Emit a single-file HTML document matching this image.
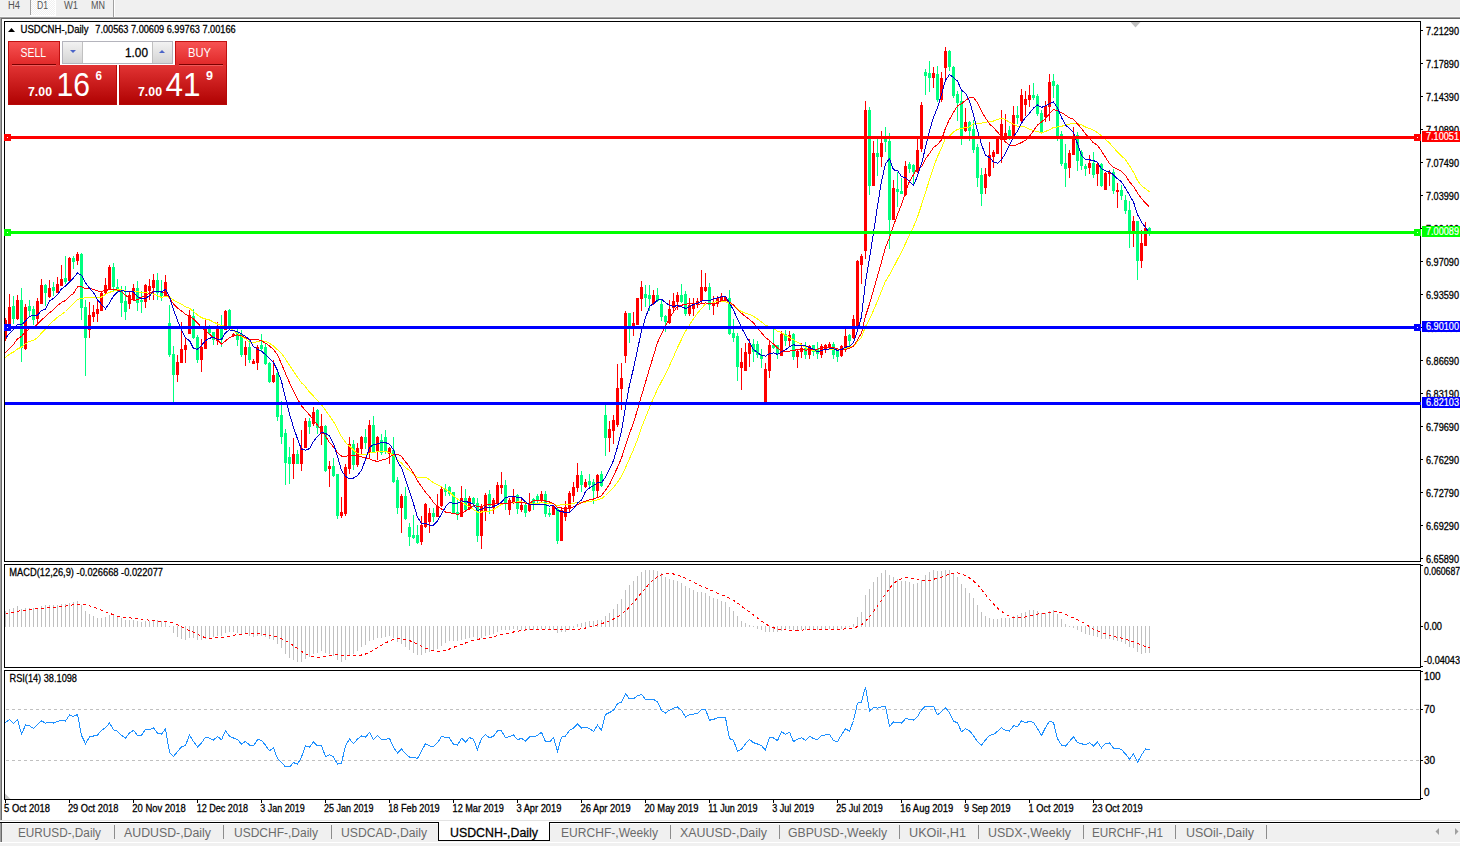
<!DOCTYPE html>
<html><head><meta charset="utf-8"><title>USDCNH-,Daily</title>
<style>
html,body{margin:0;padding:0;background:#fff;}
body{width:1460px;height:846px;overflow:hidden;position:relative;font-family:"Liberation Sans",sans-serif;}
</style></head><body>
<svg width="1460" height="846" viewBox="0 0 1460 846" style="position:absolute;left:0;top:0"><style>text[fill="#000"]{stroke:#000;stroke-width:0.28px} text[fill="#fff"]{stroke:#fff;stroke-width:0.2px}</style><rect x="0" y="0" width="1460" height="17" fill="#f0f0f0"/><rect x="0" y="16" width="1460" height="1" fill="#f7f7f7"/><defs><pattern id="chk" x="0" y="0" width="2" height="2" patternUnits="userSpaceOnUse"><rect width="2" height="2" fill="#f0f0f0"/><rect width="1" height="1" fill="#fff"/><rect x="1" y="1" width="1" height="1" fill="#fff"/></pattern></defs><rect x="31" y="0" width="24" height="15" fill="url(#chk)" shape-rendering="crispEdges"/><rect x="30" y="15" width="26" height="1" fill="#fff"/><rect x="55" y="0" width="1" height="16" fill="#fff"/><rect x="30" y="0" width="1" height="15" fill="#a0a0a0"/><rect x="113" y="0" width="1" height="17" fill="#a0a0a0"/><rect x="114" y="0" width="1" height="17" fill="#ffffff"/><text x="8" y="8.8" font-family="Liberation Sans, sans-serif" font-size="10" fill="#555555" textLength="12" lengthAdjust="spacingAndGlyphs">H4</text><text x="37" y="8.8" font-family="Liberation Sans, sans-serif" font-size="10" fill="#555555" textLength="11" lengthAdjust="spacingAndGlyphs">D1</text><text x="64" y="8.8" font-family="Liberation Sans, sans-serif" font-size="10" fill="#555555" textLength="14" lengthAdjust="spacingAndGlyphs">W1</text><text x="91" y="8.8" font-family="Liberation Sans, sans-serif" font-size="10" fill="#555555" textLength="14" lengthAdjust="spacingAndGlyphs">MN</text><rect x="0" y="17" width="1460" height="1" fill="#a0a0a0"/><rect x="0" y="18" width="1460" height="1" fill="#696969"/><rect x="0" y="17" width="1" height="803" fill="#a0a0a0"/><rect x="1" y="18" width="1" height="802" fill="#696969"/><rect x="4.5" y="21.5" width="1416" height="540" fill="none" stroke="#000" stroke-width="1"/><rect x="4.5" y="564.5" width="1416" height="103" fill="none" stroke="#000" stroke-width="1"/><rect x="4.5" y="670.5" width="1416" height="129" fill="none" stroke="#000" stroke-width="1"/><defs><clipPath id="cm"><rect x="5" y="22" width="1415" height="539"/></clipPath><clipPath id="cd"><rect x="5" y="565" width="1415" height="102"/></clipPath><clipPath id="cr"><rect x="5" y="671" width="1415" height="128"/></clipPath></defs><g clip-path="url(#cm)" shape-rendering="crispEdges"><rect x="5" y="318" width="1" height="23" fill="#ff0000"/><rect x="4" y="320" width="3" height="19" fill="#ff0000"/><rect x="9" y="294" width="1" height="36" fill="#ff0000"/><rect x="8" y="307" width="3" height="18" fill="#ff0000"/><rect x="13" y="296" width="1" height="28" fill="#00ff7f"/><rect x="12" y="306" width="3" height="13" fill="#00ff7f"/><rect x="17" y="295" width="1" height="25" fill="#ff0000"/><rect x="16" y="300" width="3" height="19" fill="#ff0000"/><rect x="21" y="288" width="1" height="74" fill="#00ff7f"/><rect x="20" y="300" width="3" height="48" fill="#00ff7f"/><rect x="25" y="304" width="1" height="46" fill="#ff0000"/><rect x="24" y="307" width="3" height="42" fill="#ff0000"/><rect x="29" y="300" width="1" height="17" fill="#00ff7f"/><rect x="28" y="306" width="3" height="5" fill="#00ff7f"/><rect x="33" y="306" width="1" height="19" fill="#00ff7f"/><rect x="32" y="309" width="3" height="11" fill="#00ff7f"/><rect x="37" y="298" width="1" height="27" fill="#ff0000"/><rect x="36" y="301" width="3" height="18" fill="#ff0000"/><rect x="41" y="279" width="1" height="25" fill="#ff0000"/><rect x="40" y="285" width="3" height="19" fill="#ff0000"/><rect x="45" y="284" width="1" height="22" fill="#00ff7f"/><rect x="44" y="285" width="3" height="8" fill="#00ff7f"/><rect x="49" y="280" width="1" height="18" fill="#ff0000"/><rect x="48" y="288" width="3" height="9" fill="#ff0000"/><rect x="53" y="282" width="1" height="14" fill="#00ff7f"/><rect x="52" y="287" width="3" height="4" fill="#00ff7f"/><rect x="57" y="277" width="1" height="16" fill="#ff0000"/><rect x="56" y="284" width="3" height="9" fill="#ff0000"/><rect x="61" y="265" width="1" height="21" fill="#ff0000"/><rect x="60" y="279" width="3" height="7" fill="#ff0000"/><rect x="65" y="256" width="1" height="28" fill="#00ff7f"/><rect x="64" y="278" width="3" height="4" fill="#00ff7f"/><rect x="69" y="257" width="1" height="25" fill="#ff0000"/><rect x="68" y="258" width="3" height="23" fill="#ff0000"/><rect x="73" y="256" width="1" height="13" fill="#00ff7f"/><rect x="72" y="258" width="3" height="4" fill="#00ff7f"/><rect x="77" y="252" width="1" height="13" fill="#ff0000"/><rect x="76" y="254" width="3" height="7" fill="#ff0000"/><rect x="81" y="253" width="1" height="67" fill="#00ff7f"/><rect x="80" y="254" width="3" height="54" fill="#00ff7f"/><rect x="85" y="300" width="1" height="76" fill="#00ff7f"/><rect x="84" y="307" width="3" height="31" fill="#00ff7f"/><rect x="89" y="302" width="1" height="36" fill="#ff0000"/><rect x="88" y="315" width="3" height="15" fill="#ff0000"/><rect x="93" y="305" width="1" height="17" fill="#ff0000"/><rect x="92" y="312" width="3" height="5" fill="#ff0000"/><rect x="97" y="299" width="1" height="23" fill="#ff0000"/><rect x="96" y="309" width="3" height="5" fill="#ff0000"/><rect x="101" y="292" width="1" height="19" fill="#ff0000"/><rect x="100" y="293" width="3" height="18" fill="#ff0000"/><rect x="105" y="278" width="1" height="16" fill="#ff0000"/><rect x="104" y="285" width="3" height="8" fill="#ff0000"/><rect x="109" y="265" width="1" height="25" fill="#ff0000"/><rect x="108" y="267" width="3" height="22" fill="#ff0000"/><rect x="113" y="263" width="1" height="28" fill="#00ff7f"/><rect x="112" y="267" width="3" height="20" fill="#00ff7f"/><rect x="117" y="279" width="1" height="14" fill="#00ff7f"/><rect x="116" y="287" width="3" height="4" fill="#00ff7f"/><rect x="121" y="286" width="1" height="31" fill="#00ff7f"/><rect x="120" y="290" width="3" height="13" fill="#00ff7f"/><rect x="125" y="286" width="1" height="34" fill="#00ff7f"/><rect x="124" y="301" width="3" height="11" fill="#00ff7f"/><rect x="129" y="291" width="1" height="18" fill="#ff0000"/><rect x="128" y="295" width="3" height="9" fill="#ff0000"/><rect x="133" y="284" width="1" height="17" fill="#ff0000"/><rect x="132" y="288" width="3" height="12" fill="#ff0000"/><rect x="137" y="281" width="1" height="30" fill="#00ff7f"/><rect x="136" y="288" width="3" height="15" fill="#00ff7f"/><rect x="141" y="291" width="1" height="22" fill="#00ff7f"/><rect x="140" y="300" width="3" height="2" fill="#00ff7f"/><rect x="145" y="284" width="1" height="24" fill="#ff0000"/><rect x="144" y="285" width="3" height="17" fill="#ff0000"/><rect x="149" y="279" width="1" height="21" fill="#ff0000"/><rect x="148" y="286" width="3" height="5" fill="#ff0000"/><rect x="153" y="274" width="1" height="26" fill="#ff0000"/><rect x="152" y="280" width="3" height="8" fill="#ff0000"/><rect x="157" y="273" width="1" height="27" fill="#00ff7f"/><rect x="156" y="280" width="3" height="13" fill="#00ff7f"/><rect x="161" y="280" width="1" height="21" fill="#00ff7f"/><rect x="160" y="291" width="3" height="5" fill="#00ff7f"/><rect x="165" y="275" width="1" height="21" fill="#ff0000"/><rect x="164" y="282" width="3" height="14" fill="#ff0000"/><rect x="169" y="305" width="1" height="52" fill="#00ff7f"/><rect x="168" y="323" width="3" height="32" fill="#00ff7f"/><rect x="173" y="346" width="1" height="56" fill="#00ff7f"/><rect x="172" y="354" width="3" height="21" fill="#00ff7f"/><rect x="177" y="355" width="1" height="27" fill="#ff0000"/><rect x="176" y="362" width="3" height="13" fill="#ff0000"/><rect x="181" y="322" width="1" height="41" fill="#ff0000"/><rect x="180" y="349" width="3" height="14" fill="#ff0000"/><rect x="185" y="338" width="1" height="25" fill="#ff0000"/><rect x="184" y="345" width="3" height="5" fill="#ff0000"/><rect x="189" y="310" width="1" height="24" fill="#ff0000"/><rect x="188" y="315" width="3" height="19" fill="#ff0000"/><rect x="193" y="309" width="1" height="30" fill="#00ff7f"/><rect x="192" y="316" width="3" height="22" fill="#00ff7f"/><rect x="197" y="335" width="1" height="28" fill="#00ff7f"/><rect x="196" y="337" width="3" height="23" fill="#00ff7f"/><rect x="201" y="339" width="1" height="33" fill="#ff0000"/><rect x="200" y="347" width="3" height="13" fill="#ff0000"/><rect x="205" y="319" width="1" height="30" fill="#ff0000"/><rect x="204" y="329" width="3" height="20" fill="#ff0000"/><rect x="209" y="325" width="1" height="10" fill="#00ff7f"/><rect x="208" y="329" width="3" height="4" fill="#00ff7f"/><rect x="213" y="332" width="1" height="13" fill="#00ff7f"/><rect x="212" y="332" width="3" height="8" fill="#00ff7f"/><rect x="217" y="322" width="1" height="23" fill="#ff0000"/><rect x="216" y="328" width="3" height="13" fill="#ff0000"/><rect x="221" y="315" width="1" height="32" fill="#00ff7f"/><rect x="220" y="328" width="3" height="12" fill="#00ff7f"/><rect x="225" y="310" width="1" height="20" fill="#ff0000"/><rect x="224" y="311" width="3" height="19" fill="#ff0000"/><rect x="229" y="309" width="1" height="20" fill="#00ff7f"/><rect x="228" y="310" width="3" height="19" fill="#00ff7f"/><rect x="233" y="333" width="1" height="4" fill="#ff0000"/><rect x="232" y="334" width="3" height="2" fill="#ff0000"/><rect x="237" y="329" width="1" height="17" fill="#00ff7f"/><rect x="236" y="333" width="3" height="7" fill="#00ff7f"/><rect x="241" y="330" width="1" height="27" fill="#00ff7f"/><rect x="240" y="334" width="3" height="21" fill="#00ff7f"/><rect x="245" y="341" width="1" height="25" fill="#ff0000"/><rect x="244" y="347" width="3" height="8" fill="#ff0000"/><rect x="249" y="340" width="1" height="23" fill="#00ff7f"/><rect x="248" y="347" width="3" height="13" fill="#00ff7f"/><rect x="253" y="359" width="1" height="5" fill="#ff0000"/><rect x="252" y="361" width="3" height="3" fill="#ff0000"/><rect x="257" y="345" width="1" height="25" fill="#ff0000"/><rect x="256" y="347" width="3" height="16" fill="#ff0000"/><rect x="261" y="334" width="1" height="17" fill="#00ff7f"/><rect x="260" y="345" width="3" height="4" fill="#00ff7f"/><rect x="265" y="343" width="1" height="22" fill="#00ff7f"/><rect x="264" y="347" width="3" height="17" fill="#00ff7f"/><rect x="269" y="362" width="1" height="21" fill="#00ff7f"/><rect x="268" y="363" width="3" height="19" fill="#00ff7f"/><rect x="273" y="360" width="1" height="23" fill="#ff0000"/><rect x="272" y="375" width="3" height="7" fill="#ff0000"/><rect x="277" y="372" width="1" height="49" fill="#00ff7f"/><rect x="276" y="373" width="3" height="44" fill="#00ff7f"/><rect x="281" y="401" width="1" height="43" fill="#00ff7f"/><rect x="280" y="415" width="3" height="22" fill="#00ff7f"/><rect x="285" y="429" width="1" height="56" fill="#00ff7f"/><rect x="284" y="433" width="3" height="30" fill="#00ff7f"/><rect x="289" y="447" width="1" height="37" fill="#00ff7f"/><rect x="288" y="457" width="3" height="7" fill="#00ff7f"/><rect x="293" y="438" width="1" height="41" fill="#ff0000"/><rect x="292" y="454" width="3" height="10" fill="#ff0000"/><rect x="297" y="450" width="1" height="14" fill="#00ff7f"/><rect x="296" y="454" width="3" height="10" fill="#00ff7f"/><rect x="301" y="430" width="1" height="41" fill="#ff0000"/><rect x="300" y="448" width="3" height="16" fill="#ff0000"/><rect x="305" y="418" width="1" height="30" fill="#ff0000"/><rect x="304" y="421" width="3" height="27" fill="#ff0000"/><rect x="309" y="418" width="1" height="16" fill="#00ff7f"/><rect x="308" y="421" width="3" height="6" fill="#00ff7f"/><rect x="313" y="407" width="1" height="19" fill="#ff0000"/><rect x="312" y="412" width="3" height="12" fill="#ff0000"/><rect x="317" y="409" width="1" height="25" fill="#00ff7f"/><rect x="316" y="410" width="3" height="18" fill="#00ff7f"/><rect x="321" y="414" width="1" height="31" fill="#ff0000"/><rect x="320" y="426" width="3" height="8" fill="#ff0000"/><rect x="325" y="425" width="1" height="47" fill="#00ff7f"/><rect x="324" y="426" width="3" height="45" fill="#00ff7f"/><rect x="329" y="461" width="1" height="26" fill="#ff0000"/><rect x="328" y="466" width="3" height="3" fill="#ff0000"/><rect x="333" y="458" width="1" height="19" fill="#00ff7f"/><rect x="332" y="466" width="3" height="10" fill="#00ff7f"/><rect x="337" y="474" width="1" height="45" fill="#00ff7f"/><rect x="336" y="474" width="3" height="42" fill="#00ff7f"/><rect x="341" y="497" width="1" height="21" fill="#ff0000"/><rect x="340" y="512" width="3" height="4" fill="#ff0000"/><rect x="345" y="464" width="1" height="52" fill="#ff0000"/><rect x="344" y="467" width="3" height="47" fill="#ff0000"/><rect x="349" y="437" width="1" height="37" fill="#ff0000"/><rect x="348" y="444" width="3" height="25" fill="#ff0000"/><rect x="353" y="440" width="1" height="30" fill="#00ff7f"/><rect x="352" y="444" width="3" height="21" fill="#00ff7f"/><rect x="357" y="443" width="1" height="24" fill="#ff0000"/><rect x="356" y="448" width="3" height="17" fill="#ff0000"/><rect x="361" y="436" width="1" height="18" fill="#ff0000"/><rect x="360" y="437" width="3" height="12" fill="#ff0000"/><rect x="365" y="429" width="1" height="20" fill="#00ff7f"/><rect x="364" y="437" width="3" height="6" fill="#00ff7f"/><rect x="369" y="420" width="1" height="39" fill="#ff0000"/><rect x="368" y="425" width="3" height="28" fill="#ff0000"/><rect x="373" y="416" width="1" height="37" fill="#00ff7f"/><rect x="372" y="425" width="3" height="27" fill="#00ff7f"/><rect x="377" y="436" width="1" height="24" fill="#ff0000"/><rect x="376" y="437" width="3" height="15" fill="#ff0000"/><rect x="381" y="434" width="1" height="21" fill="#00ff7f"/><rect x="380" y="440" width="3" height="13" fill="#00ff7f"/><rect x="385" y="430" width="1" height="24" fill="#00ff7f"/><rect x="384" y="437" width="3" height="15" fill="#00ff7f"/><rect x="389" y="447" width="1" height="17" fill="#ff0000"/><rect x="388" y="448" width="3" height="6" fill="#ff0000"/><rect x="393" y="437" width="1" height="46" fill="#00ff7f"/><rect x="392" y="450" width="3" height="32" fill="#00ff7f"/><rect x="397" y="477" width="1" height="37" fill="#00ff7f"/><rect x="396" y="480" width="3" height="28" fill="#00ff7f"/><rect x="401" y="494" width="1" height="39" fill="#ff0000"/><rect x="400" y="496" width="3" height="12" fill="#ff0000"/><rect x="405" y="487" width="1" height="33" fill="#00ff7f"/><rect x="404" y="496" width="3" height="23" fill="#00ff7f"/><rect x="409" y="523" width="1" height="23" fill="#00ff7f"/><rect x="408" y="527" width="3" height="10" fill="#00ff7f"/><rect x="413" y="515" width="1" height="24" fill="#00ff7f"/><rect x="412" y="535" width="3" height="3" fill="#00ff7f"/><rect x="417" y="525" width="1" height="19" fill="#00ff7f"/><rect x="416" y="535" width="3" height="8" fill="#00ff7f"/><rect x="421" y="516" width="1" height="29" fill="#ff0000"/><rect x="420" y="525" width="3" height="17" fill="#ff0000"/><rect x="425" y="503" width="1" height="25" fill="#ff0000"/><rect x="424" y="504" width="3" height="23" fill="#ff0000"/><rect x="429" y="508" width="1" height="25" fill="#ff0000"/><rect x="428" y="513" width="3" height="9" fill="#ff0000"/><rect x="433" y="508" width="1" height="14" fill="#00ff7f"/><rect x="432" y="513" width="3" height="4" fill="#00ff7f"/><rect x="437" y="494" width="1" height="23" fill="#ff0000"/><rect x="436" y="506" width="3" height="11" fill="#ff0000"/><rect x="441" y="487" width="1" height="20" fill="#ff0000"/><rect x="440" y="489" width="3" height="17" fill="#ff0000"/><rect x="445" y="484" width="1" height="12" fill="#00ff7f"/><rect x="444" y="489" width="3" height="3" fill="#00ff7f"/><rect x="449" y="486" width="1" height="10" fill="#00ff7f"/><rect x="448" y="487" width="3" height="7" fill="#00ff7f"/><rect x="453" y="492" width="1" height="22" fill="#00ff7f"/><rect x="452" y="492" width="3" height="21" fill="#00ff7f"/><rect x="457" y="498" width="1" height="22" fill="#00ff7f"/><rect x="456" y="512" width="3" height="3" fill="#00ff7f"/><rect x="461" y="486" width="1" height="31" fill="#ff0000"/><rect x="460" y="498" width="3" height="19" fill="#ff0000"/><rect x="465" y="489" width="1" height="22" fill="#00ff7f"/><rect x="464" y="498" width="3" height="12" fill="#00ff7f"/><rect x="469" y="496" width="1" height="14" fill="#ff0000"/><rect x="468" y="498" width="3" height="11" fill="#ff0000"/><rect x="473" y="497" width="1" height="10" fill="#00ff7f"/><rect x="472" y="498" width="3" height="6" fill="#00ff7f"/><rect x="477" y="498" width="1" height="44" fill="#00ff7f"/><rect x="476" y="503" width="3" height="33" fill="#00ff7f"/><rect x="481" y="504" width="1" height="45" fill="#ff0000"/><rect x="480" y="506" width="3" height="30" fill="#ff0000"/><rect x="485" y="493" width="1" height="28" fill="#ff0000"/><rect x="484" y="495" width="3" height="16" fill="#ff0000"/><rect x="489" y="490" width="1" height="24" fill="#00ff7f"/><rect x="488" y="494" width="3" height="12" fill="#00ff7f"/><rect x="493" y="498" width="1" height="16" fill="#ff0000"/><rect x="492" y="500" width="3" height="8" fill="#ff0000"/><rect x="497" y="482" width="1" height="23" fill="#ff0000"/><rect x="496" y="485" width="3" height="18" fill="#ff0000"/><rect x="501" y="472" width="1" height="22" fill="#ff0000"/><rect x="500" y="485" width="3" height="3" fill="#ff0000"/><rect x="505" y="480" width="1" height="30" fill="#00ff7f"/><rect x="504" y="485" width="3" height="19" fill="#00ff7f"/><rect x="509" y="498" width="1" height="17" fill="#ff0000"/><rect x="508" y="500" width="3" height="10" fill="#ff0000"/><rect x="513" y="489" width="1" height="15" fill="#ff0000"/><rect x="512" y="496" width="3" height="6" fill="#ff0000"/><rect x="517" y="494" width="1" height="20" fill="#00ff7f"/><rect x="516" y="495" width="3" height="14" fill="#00ff7f"/><rect x="521" y="498" width="1" height="14" fill="#ff0000"/><rect x="520" y="505" width="3" height="5" fill="#ff0000"/><rect x="525" y="503" width="1" height="14" fill="#00ff7f"/><rect x="524" y="505" width="3" height="8" fill="#00ff7f"/><rect x="529" y="493" width="1" height="19" fill="#ff0000"/><rect x="528" y="503" width="3" height="8" fill="#ff0000"/><rect x="533" y="498" width="1" height="12" fill="#00ff7f"/><rect x="532" y="499" width="3" height="5" fill="#00ff7f"/><rect x="537" y="494" width="1" height="10" fill="#00ff7f"/><rect x="536" y="496" width="3" height="5" fill="#00ff7f"/><rect x="541" y="491" width="1" height="12" fill="#ff0000"/><rect x="540" y="494" width="3" height="7" fill="#ff0000"/><rect x="545" y="491" width="1" height="26" fill="#00ff7f"/><rect x="544" y="494" width="3" height="20" fill="#00ff7f"/><rect x="549" y="508" width="1" height="9" fill="#00ff7f"/><rect x="548" y="513" width="3" height="2" fill="#00ff7f"/><rect x="553" y="506" width="1" height="9" fill="#ff0000"/><rect x="552" y="506" width="3" height="9" fill="#ff0000"/><rect x="557" y="507" width="1" height="37" fill="#00ff7f"/><rect x="556" y="509" width="3" height="32" fill="#00ff7f"/><rect x="561" y="507" width="1" height="34" fill="#ff0000"/><rect x="560" y="510" width="3" height="31" fill="#ff0000"/><rect x="565" y="501" width="1" height="20" fill="#ff0000"/><rect x="564" y="507" width="3" height="10" fill="#ff0000"/><rect x="569" y="491" width="1" height="22" fill="#ff0000"/><rect x="568" y="493" width="3" height="16" fill="#ff0000"/><rect x="573" y="482" width="1" height="20" fill="#ff0000"/><rect x="572" y="487" width="3" height="9" fill="#ff0000"/><rect x="577" y="463" width="1" height="29" fill="#ff0000"/><rect x="576" y="475" width="3" height="13" fill="#ff0000"/><rect x="581" y="471" width="1" height="21" fill="#00ff7f"/><rect x="580" y="475" width="3" height="10" fill="#00ff7f"/><rect x="585" y="479" width="1" height="9" fill="#ff0000"/><rect x="584" y="482" width="3" height="5" fill="#ff0000"/><rect x="589" y="474" width="1" height="13" fill="#00ff7f"/><rect x="588" y="481" width="3" height="4" fill="#00ff7f"/><rect x="593" y="479" width="1" height="25" fill="#00ff7f"/><rect x="592" y="482" width="3" height="9" fill="#00ff7f"/><rect x="597" y="474" width="1" height="23" fill="#ff0000"/><rect x="596" y="475" width="3" height="16" fill="#ff0000"/><rect x="601" y="471" width="1" height="16" fill="#00ff7f"/><rect x="600" y="474" width="3" height="12" fill="#00ff7f"/><rect x="605" y="404" width="1" height="52" fill="#00ff7f"/><rect x="604" y="415" width="3" height="23" fill="#00ff7f"/><rect x="609" y="421" width="1" height="31" fill="#ff0000"/><rect x="608" y="429" width="3" height="9" fill="#ff0000"/><rect x="613" y="415" width="1" height="29" fill="#ff0000"/><rect x="612" y="420" width="3" height="11" fill="#ff0000"/><rect x="617" y="364" width="1" height="63" fill="#ff0000"/><rect x="616" y="388" width="3" height="37" fill="#ff0000"/><rect x="621" y="363" width="1" height="47" fill="#ff0000"/><rect x="620" y="378" width="3" height="11" fill="#ff0000"/><rect x="625" y="311" width="1" height="52" fill="#ff0000"/><rect x="624" y="313" width="3" height="43" fill="#ff0000"/><rect x="629" y="313" width="1" height="30" fill="#00ff7f"/><rect x="628" y="313" width="3" height="13" fill="#00ff7f"/><rect x="633" y="312" width="1" height="24" fill="#ff0000"/><rect x="632" y="323" width="3" height="3" fill="#ff0000"/><rect x="637" y="298" width="1" height="27" fill="#ff0000"/><rect x="636" y="298" width="3" height="27" fill="#ff0000"/><rect x="641" y="281" width="1" height="30" fill="#ff0000"/><rect x="640" y="287" width="3" height="12" fill="#ff0000"/><rect x="645" y="285" width="1" height="22" fill="#00ff7f"/><rect x="644" y="294" width="3" height="4" fill="#00ff7f"/><rect x="649" y="285" width="1" height="26" fill="#00ff7f"/><rect x="648" y="295" width="3" height="4" fill="#00ff7f"/><rect x="653" y="290" width="1" height="15" fill="#ff0000"/><rect x="652" y="295" width="3" height="9" fill="#ff0000"/><rect x="657" y="288" width="1" height="14" fill="#00ff7f"/><rect x="656" y="295" width="3" height="6" fill="#00ff7f"/><rect x="661" y="299" width="1" height="22" fill="#00ff7f"/><rect x="660" y="304" width="3" height="13" fill="#00ff7f"/><rect x="665" y="315" width="1" height="17" fill="#00ff7f"/><rect x="664" y="316" width="3" height="6" fill="#00ff7f"/><rect x="669" y="300" width="1" height="24" fill="#ff0000"/><rect x="668" y="309" width="3" height="14" fill="#ff0000"/><rect x="673" y="293" width="1" height="18" fill="#ff0000"/><rect x="672" y="301" width="3" height="7" fill="#ff0000"/><rect x="677" y="292" width="1" height="18" fill="#ff0000"/><rect x="676" y="295" width="3" height="7" fill="#ff0000"/><rect x="681" y="284" width="1" height="19" fill="#00ff7f"/><rect x="680" y="295" width="3" height="7" fill="#00ff7f"/><rect x="685" y="291" width="1" height="25" fill="#00ff7f"/><rect x="684" y="294" width="3" height="20" fill="#00ff7f"/><rect x="689" y="298" width="1" height="18" fill="#ff0000"/><rect x="688" y="305" width="3" height="9" fill="#ff0000"/><rect x="693" y="298" width="1" height="18" fill="#ff0000"/><rect x="692" y="303" width="3" height="6" fill="#ff0000"/><rect x="697" y="298" width="1" height="10" fill="#ff0000"/><rect x="696" y="301" width="3" height="4" fill="#ff0000"/><rect x="701" y="270" width="1" height="34" fill="#ff0000"/><rect x="700" y="287" width="3" height="14" fill="#ff0000"/><rect x="705" y="273" width="1" height="19" fill="#ff0000"/><rect x="704" y="287" width="3" height="4" fill="#ff0000"/><rect x="709" y="283" width="1" height="27" fill="#00ff7f"/><rect x="708" y="287" width="3" height="18" fill="#00ff7f"/><rect x="713" y="296" width="1" height="19" fill="#ff0000"/><rect x="712" y="302" width="3" height="4" fill="#ff0000"/><rect x="717" y="296" width="1" height="11" fill="#ff0000"/><rect x="716" y="298" width="3" height="6" fill="#ff0000"/><rect x="721" y="293" width="1" height="9" fill="#ff0000"/><rect x="720" y="296" width="3" height="5" fill="#ff0000"/><rect x="725" y="296" width="1" height="6" fill="#ff0000"/><rect x="724" y="297" width="3" height="4" fill="#ff0000"/><rect x="729" y="290" width="1" height="45" fill="#00ff7f"/><rect x="728" y="298" width="3" height="36" fill="#00ff7f"/><rect x="733" y="319" width="1" height="23" fill="#00ff7f"/><rect x="732" y="333" width="3" height="5" fill="#00ff7f"/><rect x="737" y="333" width="1" height="48" fill="#00ff7f"/><rect x="736" y="336" width="3" height="31" fill="#00ff7f"/><rect x="741" y="348" width="1" height="42" fill="#ff0000"/><rect x="740" y="362" width="3" height="6" fill="#ff0000"/><rect x="745" y="343" width="1" height="28" fill="#ff0000"/><rect x="744" y="352" width="3" height="19" fill="#ff0000"/><rect x="749" y="339" width="1" height="28" fill="#ff0000"/><rect x="748" y="343" width="3" height="11" fill="#ff0000"/><rect x="753" y="339" width="1" height="23" fill="#00ff7f"/><rect x="752" y="344" width="3" height="8" fill="#00ff7f"/><rect x="757" y="341" width="1" height="17" fill="#00ff7f"/><rect x="756" y="344" width="3" height="11" fill="#00ff7f"/><rect x="761" y="349" width="1" height="19" fill="#00ff7f"/><rect x="760" y="355" width="3" height="4" fill="#00ff7f"/><rect x="765" y="363" width="1" height="40" fill="#ff0000"/><rect x="764" y="369" width="3" height="34" fill="#ff0000"/><rect x="769" y="341" width="1" height="37" fill="#ff0000"/><rect x="768" y="345" width="3" height="26" fill="#ff0000"/><rect x="773" y="329" width="1" height="20" fill="#00ff7f"/><rect x="772" y="345" width="3" height="3" fill="#00ff7f"/><rect x="777" y="345" width="1" height="14" fill="#00ff7f"/><rect x="776" y="345" width="3" height="9" fill="#00ff7f"/><rect x="781" y="331" width="1" height="25" fill="#ff0000"/><rect x="780" y="334" width="3" height="22" fill="#ff0000"/><rect x="785" y="330" width="1" height="16" fill="#00ff7f"/><rect x="784" y="334" width="3" height="7" fill="#00ff7f"/><rect x="789" y="331" width="1" height="15" fill="#ff0000"/><rect x="788" y="335" width="3" height="6" fill="#ff0000"/><rect x="793" y="333" width="1" height="27" fill="#00ff7f"/><rect x="792" y="334" width="3" height="23" fill="#00ff7f"/><rect x="797" y="350" width="1" height="18" fill="#ff0000"/><rect x="796" y="351" width="3" height="6" fill="#ff0000"/><rect x="801" y="343" width="1" height="15" fill="#ff0000"/><rect x="800" y="348" width="3" height="4" fill="#ff0000"/><rect x="805" y="342" width="1" height="17" fill="#00ff7f"/><rect x="804" y="348" width="3" height="7" fill="#00ff7f"/><rect x="809" y="345" width="1" height="14" fill="#ff0000"/><rect x="808" y="346" width="3" height="9" fill="#ff0000"/><rect x="813" y="345" width="1" height="11" fill="#00ff7f"/><rect x="812" y="345" width="3" height="7" fill="#00ff7f"/><rect x="817" y="342" width="1" height="17" fill="#00ff7f"/><rect x="816" y="349" width="3" height="5" fill="#00ff7f"/><rect x="821" y="344" width="1" height="14" fill="#ff0000"/><rect x="820" y="346" width="3" height="9" fill="#ff0000"/><rect x="825" y="344" width="1" height="9" fill="#ff0000"/><rect x="824" y="345" width="3" height="4" fill="#ff0000"/><rect x="829" y="342" width="1" height="8" fill="#ff0000"/><rect x="828" y="344" width="3" height="4" fill="#ff0000"/><rect x="833" y="342" width="1" height="17" fill="#00ff7f"/><rect x="832" y="344" width="3" height="11" fill="#00ff7f"/><rect x="837" y="350" width="1" height="12" fill="#00ff7f"/><rect x="836" y="351" width="3" height="6" fill="#00ff7f"/><rect x="841" y="345" width="1" height="12" fill="#ff0000"/><rect x="840" y="346" width="3" height="10" fill="#ff0000"/><rect x="845" y="329" width="1" height="23" fill="#ff0000"/><rect x="844" y="336" width="3" height="12" fill="#ff0000"/><rect x="849" y="334" width="1" height="12" fill="#00ff7f"/><rect x="848" y="335" width="3" height="6" fill="#00ff7f"/><rect x="853" y="315" width="1" height="24" fill="#ff0000"/><rect x="852" y="319" width="3" height="19" fill="#ff0000"/><rect x="857" y="260" width="1" height="69" fill="#ff0000"/><rect x="856" y="261" width="3" height="66" fill="#ff0000"/><rect x="861" y="254" width="1" height="30" fill="#ff0000"/><rect x="860" y="256" width="3" height="9" fill="#ff0000"/><rect x="865" y="101" width="1" height="158" fill="#ff0000"/><rect x="864" y="110" width="3" height="141" fill="#ff0000"/><rect x="869" y="107" width="1" height="88" fill="#00ff7f"/><rect x="868" y="110" width="3" height="76" fill="#00ff7f"/><rect x="873" y="141" width="1" height="45" fill="#ff0000"/><rect x="872" y="153" width="3" height="33" fill="#ff0000"/><rect x="877" y="139" width="1" height="37" fill="#00ff7f"/><rect x="876" y="153" width="3" height="4" fill="#00ff7f"/><rect x="881" y="131" width="1" height="36" fill="#ff0000"/><rect x="880" y="143" width="3" height="14" fill="#ff0000"/><rect x="885" y="127" width="1" height="25" fill="#00ff7f"/><rect x="884" y="139" width="3" height="3" fill="#00ff7f"/><rect x="889" y="133" width="1" height="116" fill="#00ff7f"/><rect x="888" y="141" width="3" height="79" fill="#00ff7f"/><rect x="893" y="180" width="1" height="40" fill="#ff0000"/><rect x="892" y="188" width="3" height="32" fill="#ff0000"/><rect x="897" y="172" width="1" height="35" fill="#00ff7f"/><rect x="896" y="189" width="3" height="3" fill="#00ff7f"/><rect x="901" y="178" width="1" height="16" fill="#00ff7f"/><rect x="900" y="191" width="3" height="3" fill="#00ff7f"/><rect x="905" y="161" width="1" height="35" fill="#ff0000"/><rect x="904" y="166" width="3" height="29" fill="#ff0000"/><rect x="909" y="162" width="1" height="11" fill="#00ff7f"/><rect x="908" y="164" width="3" height="5" fill="#00ff7f"/><rect x="913" y="164" width="1" height="22" fill="#00ff7f"/><rect x="912" y="165" width="3" height="7" fill="#00ff7f"/><rect x="917" y="138" width="1" height="35" fill="#ff0000"/><rect x="916" y="150" width="3" height="22" fill="#ff0000"/><rect x="921" y="102" width="1" height="50" fill="#ff0000"/><rect x="920" y="105" width="3" height="44" fill="#ff0000"/><rect x="925" y="69" width="1" height="26" fill="#00ff7f"/><rect x="924" y="72" width="3" height="4" fill="#00ff7f"/><rect x="929" y="61" width="1" height="31" fill="#00ff7f"/><rect x="928" y="73" width="3" height="5" fill="#00ff7f"/><rect x="933" y="67" width="1" height="21" fill="#ff0000"/><rect x="932" y="73" width="3" height="5" fill="#ff0000"/><rect x="937" y="66" width="1" height="36" fill="#00ff7f"/><rect x="936" y="74" width="3" height="26" fill="#00ff7f"/><rect x="941" y="72" width="1" height="30" fill="#ff0000"/><rect x="940" y="78" width="3" height="22" fill="#ff0000"/><rect x="945" y="47" width="1" height="32" fill="#ff0000"/><rect x="944" y="51" width="3" height="17" fill="#ff0000"/><rect x="949" y="50" width="1" height="21" fill="#00ff7f"/><rect x="948" y="51" width="3" height="16" fill="#00ff7f"/><rect x="953" y="66" width="1" height="32" fill="#00ff7f"/><rect x="952" y="67" width="3" height="29" fill="#00ff7f"/><rect x="957" y="91" width="1" height="30" fill="#00ff7f"/><rect x="956" y="94" width="3" height="9" fill="#00ff7f"/><rect x="961" y="91" width="1" height="54" fill="#00ff7f"/><rect x="960" y="101" width="3" height="36" fill="#00ff7f"/><rect x="965" y="108" width="1" height="24" fill="#ff0000"/><rect x="964" y="122" width="3" height="9" fill="#ff0000"/><rect x="969" y="121" width="1" height="20" fill="#00ff7f"/><rect x="968" y="122" width="3" height="9" fill="#00ff7f"/><rect x="973" y="120" width="1" height="33" fill="#00ff7f"/><rect x="972" y="129" width="3" height="21" fill="#00ff7f"/><rect x="977" y="144" width="1" height="43" fill="#00ff7f"/><rect x="976" y="147" width="3" height="31" fill="#00ff7f"/><rect x="981" y="168" width="1" height="38" fill="#00ff7f"/><rect x="980" y="175" width="3" height="19" fill="#00ff7f"/><rect x="985" y="168" width="1" height="26" fill="#ff0000"/><rect x="984" y="174" width="3" height="14" fill="#ff0000"/><rect x="989" y="142" width="1" height="35" fill="#ff0000"/><rect x="988" y="155" width="3" height="21" fill="#ff0000"/><rect x="993" y="150" width="1" height="18" fill="#ff0000"/><rect x="992" y="152" width="3" height="5" fill="#ff0000"/><rect x="997" y="137" width="1" height="17" fill="#ff0000"/><rect x="996" y="139" width="3" height="15" fill="#ff0000"/><rect x="1001" y="110" width="1" height="53" fill="#ff0000"/><rect x="1000" y="124" width="3" height="16" fill="#ff0000"/><rect x="1005" y="114" width="1" height="26" fill="#ff0000"/><rect x="1004" y="133" width="3" height="7" fill="#ff0000"/><rect x="1009" y="126" width="1" height="14" fill="#00ff7f"/><rect x="1008" y="130" width="3" height="6" fill="#00ff7f"/><rect x="1013" y="106" width="1" height="32" fill="#ff0000"/><rect x="1012" y="115" width="3" height="22" fill="#ff0000"/><rect x="1017" y="106" width="1" height="18" fill="#00ff7f"/><rect x="1016" y="115" width="3" height="3" fill="#00ff7f"/><rect x="1021" y="89" width="1" height="35" fill="#ff0000"/><rect x="1020" y="95" width="3" height="26" fill="#ff0000"/><rect x="1025" y="91" width="1" height="25" fill="#ff0000"/><rect x="1024" y="99" width="3" height="6" fill="#ff0000"/><rect x="1029" y="85" width="1" height="22" fill="#ff0000"/><rect x="1028" y="95" width="3" height="5" fill="#ff0000"/><rect x="1033" y="83" width="1" height="17" fill="#00ff7f"/><rect x="1032" y="95" width="3" height="3" fill="#00ff7f"/><rect x="1037" y="94" width="1" height="22" fill="#00ff7f"/><rect x="1036" y="96" width="3" height="18" fill="#00ff7f"/><rect x="1041" y="110" width="1" height="23" fill="#00ff7f"/><rect x="1040" y="113" width="3" height="20" fill="#00ff7f"/><rect x="1045" y="101" width="1" height="21" fill="#ff0000"/><rect x="1044" y="106" width="3" height="11" fill="#ff0000"/><rect x="1049" y="74" width="1" height="47" fill="#ff0000"/><rect x="1048" y="82" width="3" height="25" fill="#ff0000"/><rect x="1053" y="74" width="1" height="24" fill="#00ff7f"/><rect x="1052" y="81" width="3" height="5" fill="#00ff7f"/><rect x="1057" y="84" width="1" height="57" fill="#00ff7f"/><rect x="1056" y="85" width="3" height="53" fill="#00ff7f"/><rect x="1061" y="131" width="1" height="35" fill="#00ff7f"/><rect x="1060" y="134" width="3" height="30" fill="#00ff7f"/><rect x="1065" y="144" width="1" height="43" fill="#00ff7f"/><rect x="1064" y="163" width="3" height="6" fill="#00ff7f"/><rect x="1069" y="150" width="1" height="28" fill="#ff0000"/><rect x="1068" y="153" width="3" height="15" fill="#ff0000"/><rect x="1073" y="127" width="1" height="28" fill="#ff0000"/><rect x="1072" y="138" width="3" height="17" fill="#ff0000"/><rect x="1077" y="132" width="1" height="39" fill="#00ff7f"/><rect x="1076" y="135" width="3" height="26" fill="#00ff7f"/><rect x="1081" y="150" width="1" height="20" fill="#00ff7f"/><rect x="1080" y="152" width="3" height="14" fill="#00ff7f"/><rect x="1085" y="164" width="1" height="12" fill="#00ff7f"/><rect x="1084" y="166" width="3" height="3" fill="#00ff7f"/><rect x="1089" y="155" width="1" height="19" fill="#ff0000"/><rect x="1088" y="163" width="3" height="5" fill="#ff0000"/><rect x="1093" y="152" width="1" height="26" fill="#00ff7f"/><rect x="1092" y="163" width="3" height="12" fill="#00ff7f"/><rect x="1097" y="163" width="1" height="23" fill="#ff0000"/><rect x="1096" y="164" width="3" height="10" fill="#ff0000"/><rect x="1101" y="163" width="1" height="24" fill="#00ff7f"/><rect x="1100" y="164" width="3" height="22" fill="#00ff7f"/><rect x="1105" y="172" width="1" height="18" fill="#ff0000"/><rect x="1104" y="173" width="3" height="17" fill="#ff0000"/><rect x="1109" y="170" width="1" height="16" fill="#ff0000"/><rect x="1108" y="172" width="3" height="2" fill="#ff0000"/><rect x="1113" y="169" width="1" height="25" fill="#00ff7f"/><rect x="1112" y="172" width="3" height="19" fill="#00ff7f"/><rect x="1117" y="183" width="1" height="25" fill="#ff0000"/><rect x="1116" y="190" width="3" height="2" fill="#ff0000"/><rect x="1121" y="185" width="1" height="15" fill="#00ff7f"/><rect x="1120" y="190" width="3" height="6" fill="#00ff7f"/><rect x="1125" y="195" width="1" height="19" fill="#00ff7f"/><rect x="1124" y="200" width="3" height="11" fill="#00ff7f"/><rect x="1129" y="201" width="1" height="47" fill="#00ff7f"/><rect x="1128" y="210" width="3" height="23" fill="#00ff7f"/><rect x="1133" y="216" width="1" height="31" fill="#ff0000"/><rect x="1132" y="221" width="3" height="10" fill="#ff0000"/><rect x="1137" y="221" width="1" height="59" fill="#00ff7f"/><rect x="1136" y="221" width="3" height="40" fill="#00ff7f"/><rect x="1141" y="230" width="1" height="38" fill="#ff0000"/><rect x="1140" y="243" width="3" height="18" fill="#ff0000"/><rect x="1145" y="222" width="1" height="24" fill="#ff0000"/><rect x="1144" y="228" width="3" height="18" fill="#ff0000"/><rect x="1149" y="227" width="1" height="9" fill="#00ff7f"/><rect x="1148" y="228" width="3" height="4" fill="#00ff7f"/></g><g clip-path="url(#cm)"><polyline points="5.5,357.5 9.5,354.1 13.5,352.0 17.5,348.9 21.5,347.1 25.5,343.7 29.5,341.3 33.5,340.4 37.5,337.5 41.5,333.1 45.5,329.0 49.5,324.5 53.5,320.8 57.5,317.2 61.5,314.5 65.5,311.5 69.5,307.4 73.5,303.8 77.5,299.4 81.5,298.3 85.5,297.9 89.5,297.6 93.5,297.9 97.5,297.5 101.5,297.1 105.5,294.2 109.5,292.3 113.5,291.1 117.5,289.7 121.5,289.8 125.5,291.0 129.5,291.2 133.5,291.2 137.5,291.7 141.5,292.5 145.5,292.8 149.5,293.1 153.5,294.1 157.5,295.6 161.5,297.5 165.5,296.4 169.5,297.2 173.5,300.0 177.5,302.4 181.5,304.3 185.5,306.7 189.5,308.2 193.5,311.5 197.5,315.0 201.5,317.7 205.5,319.0 209.5,320.0 213.5,322.1 217.5,324.0 221.5,325.7 225.5,326.2 229.5,328.3 233.5,330.5 237.5,333.4 241.5,336.3 245.5,338.8 249.5,342.5 253.5,342.8 257.5,341.5 261.5,340.8 265.5,341.5 269.5,343.2 273.5,346.1 277.5,349.8 281.5,353.5 285.5,359.0 289.5,365.4 293.5,371.2 297.5,377.1 301.5,382.8 305.5,386.7 309.5,392.2 313.5,396.2 317.5,400.6 321.5,404.7 325.5,410.3 329.5,415.9 333.5,421.5 337.5,428.8 341.5,436.6 345.5,442.3 349.5,446.2 353.5,450.1 357.5,453.6 361.5,454.6 365.5,454.9 369.5,453.1 373.5,452.5 377.5,451.7 381.5,451.2 385.5,451.4 389.5,452.6 393.5,455.3 397.5,459.8 401.5,463.1 405.5,467.5 409.5,470.6 413.5,474.0 417.5,477.2 421.5,477.6 425.5,477.3 429.5,479.5 433.5,482.9 437.5,484.9 441.5,486.8 445.5,489.4 449.5,491.8 453.5,496.0 457.5,499.0 461.5,501.9 465.5,504.6 469.5,506.8 473.5,509.5 477.5,512.0 481.5,512.0 485.5,511.9 489.5,511.3 493.5,509.6 497.5,507.1 501.5,504.4 505.5,503.4 509.5,503.2 513.5,502.4 517.5,502.0 521.5,501.9 525.5,503.0 529.5,503.6 533.5,504.1 537.5,503.5 541.5,502.5 545.5,503.3 549.5,503.5 553.5,503.9 557.5,505.6 561.5,504.5 565.5,504.5 569.5,504.4 573.5,503.5 577.5,502.4 581.5,502.3 585.5,502.2 589.5,501.3 593.5,500.8 597.5,499.8 601.5,498.7 605.5,495.5 609.5,491.5 613.5,487.5 617.5,482.1 621.5,476.3 625.5,467.6 629.5,458.7 633.5,449.6 637.5,439.7 641.5,427.6 645.5,417.5 649.5,407.5 653.5,398.1 657.5,389.2 661.5,381.6 665.5,373.9 669.5,365.6 673.5,356.9 677.5,347.6 681.5,339.4 685.5,331.2 689.5,324.9 693.5,318.9 697.5,313.2 701.5,308.4 705.5,304.1 709.5,303.6 713.5,302.5 717.5,301.4 721.5,301.3 725.5,301.7 729.5,303.5 733.5,305.3 737.5,308.7 741.5,311.6 745.5,313.4 749.5,314.4 753.5,316.4 757.5,318.9 761.5,321.9 765.5,325.2 769.5,326.7 773.5,328.7 777.5,331.1 781.5,332.6 785.5,335.2 789.5,337.5 793.5,339.9 797.5,342.3 801.5,344.6 805.5,347.4 809.5,349.7 813.5,350.6 817.5,351.4 821.5,350.4 825.5,349.6 829.5,349.2 833.5,349.7 837.5,350.0 841.5,349.6 845.5,348.5 849.5,347.2 853.5,345.9 857.5,341.8 861.5,337.2 865.5,326.5 869.5,319.2 873.5,310.5 877.5,301.0 881.5,291.1 885.5,281.2 889.5,274.8 893.5,267.3 897.5,259.6 901.5,252.0 905.5,243.5 909.5,235.0 913.5,226.8 917.5,217.1 921.5,205.1 925.5,192.2 929.5,179.9 933.5,167.2 937.5,156.7 941.5,148.0 945.5,138.2 949.5,136.1 953.5,131.8 957.5,129.4 961.5,128.5 965.5,127.5 969.5,126.9 973.5,123.6 977.5,123.1 981.5,123.2 985.5,122.3 989.5,121.7 993.5,121.0 997.5,119.5 1001.5,118.2 1005.5,119.5 1009.5,122.4 1013.5,124.2 1017.5,126.3 1021.5,126.1 1025.5,127.1 1029.5,129.2 1033.5,130.7 1037.5,131.5 1041.5,133.0 1045.5,131.5 1049.5,129.6 1053.5,127.5 1057.5,126.9 1061.5,126.3 1065.5,125.1 1069.5,124.1 1073.5,123.3 1077.5,123.6 1081.5,124.9 1085.5,127.0 1089.5,128.4 1093.5,130.3 1097.5,132.6 1101.5,135.8 1105.5,139.5 1109.5,143.0 1113.5,147.5 1117.5,152.0 1121.5,155.9 1125.5,159.6 1129.5,165.6 1133.5,172.2 1137.5,180.5 1141.5,185.6 1145.5,188.7 1149.5,191.7" fill="none" stroke="#ffff00" stroke-width="1" shape-rendering="crispEdges"/><polyline points="5.5,352.6 9.5,348.7 13.5,344.4 17.5,338.9 21.5,336.3 25.5,332.0 29.5,328.5 33.5,327.2 37.5,324.2 41.5,319.9 45.5,316.8 49.5,312.7 53.5,309.7 57.5,305.4 61.5,302.4 65.5,300.6 69.5,296.3 73.5,293.5 77.5,286.9 81.5,286.9 85.5,288.8 89.5,288.5 93.5,289.3 97.5,291.0 101.5,291.1 105.5,290.9 109.5,289.2 113.5,289.4 117.5,290.1 121.5,291.6 125.5,295.4 129.5,297.9 133.5,300.3 137.5,299.9 141.5,297.4 145.5,295.2 149.5,293.4 153.5,291.3 157.5,291.2 161.5,291.9 165.5,293.0 169.5,297.9 173.5,303.9 177.5,308.1 181.5,310.9 185.5,314.4 189.5,316.4 193.5,318.9 197.5,323.0 201.5,327.4 205.5,330.5 209.5,334.2 213.5,337.6 217.5,339.9 221.5,344.0 225.5,340.9 229.5,337.6 233.5,335.6 237.5,334.9 241.5,335.6 245.5,337.9 249.5,339.4 253.5,339.6 257.5,339.6 261.5,340.9 265.5,343.1 269.5,346.1 273.5,349.5 277.5,355.0 281.5,363.9 285.5,373.5 289.5,382.7 293.5,390.9 297.5,398.7 301.5,405.9 305.5,410.4 309.5,415.0 313.5,419.6 317.5,425.3 321.5,429.8 325.5,436.1 329.5,442.6 333.5,446.9 337.5,452.5 341.5,456.1 345.5,456.4 349.5,455.6 353.5,455.7 357.5,455.7 361.5,456.9 365.5,458.0 369.5,458.9 373.5,460.6 377.5,461.4 381.5,460.1 385.5,459.1 389.5,457.1 393.5,454.7 397.5,454.4 401.5,456.4 405.5,461.7 409.5,466.9 413.5,473.2 417.5,480.7 421.5,486.6 425.5,492.3 429.5,496.7 433.5,502.4 437.5,506.2 441.5,508.9 445.5,512.0 449.5,512.9 453.5,513.2 457.5,514.5 461.5,513.1 465.5,511.1 469.5,508.4 473.5,505.6 477.5,506.3 481.5,506.4 485.5,505.1 489.5,504.4 493.5,503.9 497.5,503.6 501.5,503.2 505.5,503.9 509.5,503.1 513.5,501.8 517.5,502.5 521.5,502.2 525.5,503.2 529.5,503.2 533.5,500.9 537.5,500.5 541.5,500.4 545.5,501.0 549.5,502.0 553.5,503.5 557.5,507.4 561.5,507.9 565.5,508.4 569.5,508.2 573.5,506.7 577.5,504.6 581.5,502.6 585.5,501.1 589.5,499.7 593.5,499.0 597.5,497.6 601.5,495.6 605.5,490.1 609.5,484.6 613.5,476.1 617.5,467.4 621.5,458.1 625.5,445.3 629.5,433.7 633.5,422.9 637.5,409.6 641.5,395.6 645.5,382.3 649.5,368.6 653.5,355.7 657.5,342.5 661.5,333.9 665.5,326.1 669.5,318.2 673.5,312.0 677.5,306.1 681.5,305.2 685.5,304.4 689.5,303.1 693.5,303.4 697.5,304.4 701.5,303.7 705.5,302.9 709.5,303.6 713.5,303.7 717.5,302.4 721.5,300.6 725.5,299.8 729.5,302.1 733.5,305.1 737.5,309.7 741.5,313.2 745.5,316.6 749.5,319.4 753.5,323.0 757.5,327.8 761.5,332.9 765.5,337.5 769.5,340.6 773.5,344.1 777.5,348.1 781.5,350.8 785.5,351.3 789.5,351.1 793.5,350.4 797.5,349.6 801.5,349.4 805.5,350.1 809.5,349.8 813.5,349.6 817.5,349.2 821.5,347.6 825.5,347.6 829.5,347.4 833.5,347.4 837.5,349.0 841.5,349.4 845.5,349.5 849.5,348.4 853.5,346.1 857.5,339.9 861.5,332.9 865.5,316.0 869.5,304.1 873.5,289.9 877.5,276.3 881.5,261.9 885.5,247.4 889.5,237.7 893.5,225.7 897.5,214.6 901.5,204.4 905.5,192.0 909.5,181.2 913.5,174.8 917.5,167.2 921.5,166.9 925.5,159.0 929.5,153.6 933.5,147.6 937.5,144.5 941.5,140.0 945.5,128.0 949.5,119.3 953.5,112.4 957.5,105.9 961.5,103.8 965.5,100.5 969.5,97.6 973.5,97.5 977.5,102.6 981.5,111.1 985.5,118.0 989.5,123.9 993.5,127.6 997.5,132.0 1001.5,137.2 1005.5,142.0 1009.5,144.9 1013.5,145.8 1017.5,144.4 1021.5,142.5 1025.5,140.3 1029.5,136.4 1033.5,130.7 1037.5,125.0 1041.5,122.0 1045.5,118.5 1049.5,113.5 1053.5,109.6 1057.5,110.6 1061.5,112.7 1065.5,115.1 1069.5,117.8 1073.5,119.3 1077.5,123.9 1081.5,128.6 1085.5,133.9 1089.5,138.6 1093.5,142.9 1097.5,145.2 1101.5,150.9 1105.5,157.4 1109.5,163.6 1113.5,167.4 1117.5,169.3 1121.5,171.2 1125.5,175.3 1129.5,182.0 1133.5,186.4 1137.5,193.1 1141.5,198.5 1145.5,203.1 1149.5,207.2" fill="none" stroke="#ff0000" stroke-width="1" shape-rendering="crispEdges"/><polyline points="5.5,338.5 9.5,333.3 13.5,329.5 17.5,324.4 21.5,324.6 25.5,321.1 29.5,316.1 33.5,315.9 37.5,315.1 41.5,310.4 45.5,309.2 49.5,300.8 53.5,298.4 57.5,294.6 61.5,288.9 65.5,286.1 69.5,282.2 73.5,277.8 77.5,272.9 81.5,275.4 85.5,282.9 89.5,288.1 93.5,292.5 97.5,299.8 101.5,304.4 105.5,308.8 109.5,303.1 113.5,295.8 117.5,292.2 121.5,290.8 125.5,291.1 129.5,291.4 133.5,291.8 137.5,296.8 141.5,298.9 145.5,298.2 149.5,295.9 153.5,291.5 157.5,291.1 161.5,292.1 165.5,289.2 169.5,296.8 173.5,309.5 177.5,320.4 181.5,330.2 185.5,337.8 189.5,340.6 193.5,348.5 197.5,349.2 201.5,345.4 205.5,340.6 209.5,338.2 213.5,337.4 217.5,339.2 221.5,339.5 225.5,332.6 229.5,329.9 233.5,330.6 237.5,331.6 241.5,333.8 245.5,336.5 249.5,339.4 253.5,346.5 257.5,349.2 261.5,351.2 265.5,354.6 269.5,358.5 273.5,362.5 277.5,370.6 281.5,381.4 285.5,397.8 289.5,414.2 293.5,427.2 297.5,438.9 301.5,449.4 305.5,450.1 309.5,448.6 313.5,441.5 317.5,436.4 321.5,432.4 325.5,433.4 329.5,435.9 333.5,443.6 337.5,456.4 341.5,470.6 345.5,476.4 349.5,478.9 353.5,478.1 357.5,475.5 361.5,470.1 365.5,459.6 369.5,447.2 373.5,444.9 377.5,443.9 381.5,442.2 385.5,442.6 389.5,444.2 393.5,449.8 397.5,461.5 401.5,467.9 405.5,479.5 409.5,491.5 413.5,503.8 417.5,517.2 421.5,523.5 425.5,523.1 429.5,525.5 433.5,525.2 437.5,520.9 441.5,514.1 445.5,506.8 449.5,502.2 453.5,503.4 457.5,503.5 461.5,500.9 465.5,501.4 469.5,502.6 473.5,504.4 477.5,510.4 481.5,509.5 485.5,506.8 489.5,507.8 493.5,506.5 497.5,504.6 501.5,502.1 505.5,497.5 509.5,496.6 513.5,496.8 517.5,497.2 521.5,497.9 525.5,501.8 529.5,504.4 533.5,504.4 537.5,504.4 541.5,504.1 545.5,504.8 549.5,506.1 553.5,505.2 557.5,510.5 561.5,511.5 565.5,512.5 569.5,512.4 573.5,508.6 577.5,503.1 581.5,499.9 585.5,491.6 589.5,487.9 593.5,485.5 597.5,482.9 601.5,482.6 605.5,477.2 609.5,469.4 613.5,460.5 617.5,446.8 621.5,430.8 625.5,407.6 629.5,384.8 633.5,368.5 637.5,349.8 641.5,330.8 645.5,317.8 649.5,306.4 653.5,303.8 657.5,300.2 661.5,299.2 665.5,302.5 669.5,305.6 673.5,306.2 677.5,305.8 681.5,306.6 685.5,308.5 689.5,306.9 693.5,304.4 697.5,303.2 701.5,301.2 705.5,300.1 709.5,300.5 713.5,298.9 717.5,297.9 721.5,296.9 725.5,296.4 729.5,302.9 733.5,310.1 737.5,318.9 741.5,327.5 745.5,335.2 749.5,341.9 753.5,349.6 757.5,352.6 761.5,355.6 765.5,356.1 769.5,353.6 773.5,352.9 777.5,354.4 781.5,351.9 785.5,349.9 789.5,346.6 793.5,344.8 797.5,345.6 801.5,345.8 805.5,345.9 809.5,347.6 813.5,349.2 817.5,351.8 821.5,350.4 825.5,349.5 829.5,348.9 833.5,348.9 837.5,350.4 841.5,349.6 845.5,347.2 849.5,346.4 853.5,342.6 857.5,330.8 861.5,316.8 865.5,281.6 869.5,258.6 873.5,232.5 877.5,206.2 881.5,181.1 885.5,163.9 889.5,158.6 893.5,169.8 897.5,170.6 901.5,176.4 905.5,177.8 909.5,181.4 913.5,185.6 917.5,175.8 921.5,163.9 925.5,147.4 929.5,130.8 933.5,117.5 937.5,107.6 941.5,94.4 945.5,80.2 949.5,74.6 953.5,77.5 957.5,81.1 961.5,90.1 965.5,93.4 969.5,100.8 973.5,114.8 977.5,130.6 981.5,144.6 985.5,154.9 989.5,157.6 993.5,161.9 997.5,163.2 1001.5,159.6 1005.5,153.4 1009.5,145.1 1013.5,136.6 1017.5,131.2 1021.5,123.1 1025.5,117.4 1029.5,113.2 1033.5,108.1 1037.5,104.9 1041.5,107.4 1045.5,105.8 1049.5,103.9 1053.5,101.9 1057.5,107.9 1061.5,117.4 1065.5,125.2 1069.5,128.2 1073.5,132.8 1077.5,143.9 1081.5,155.4 1085.5,159.8 1089.5,159.8 1093.5,160.6 1097.5,162.2 1101.5,168.9 1105.5,170.8 1109.5,171.8 1113.5,174.9 1117.5,178.8 1121.5,181.8 1125.5,188.4 1129.5,195.1 1133.5,201.9 1137.5,214.5 1141.5,222.1 1145.5,227.5 1149.5,232.6" fill="none" stroke="#0000cd" stroke-width="1" shape-rendering="crispEdges"/></g><g shape-rendering="crispEdges"><rect x="5" y="136" width="1416" height="3" fill="#ff0000"/><rect x="4" y="134" width="7" height="7" fill="#ff0000"/><rect x="7" y="137" width="1" height="1" fill="#fff"/><rect x="1414" y="134" width="7" height="7" fill="#ff0000"/><rect x="1417" y="137" width="1" height="1" fill="#fff"/><rect x="1421" y="134" width="1" height="7" fill="#fff"/><rect x="5" y="231" width="1416" height="3" fill="#00ff00"/><rect x="4" y="229" width="7" height="7" fill="#00ff00"/><rect x="7" y="232" width="1" height="1" fill="#fff"/><rect x="1414" y="229" width="7" height="7" fill="#00ff00"/><rect x="1417" y="232" width="1" height="1" fill="#fff"/><rect x="1421" y="229" width="1" height="7" fill="#fff"/><rect x="5" y="326" width="1416" height="3" fill="#0000ff"/><rect x="4" y="324" width="7" height="7" fill="#0000ff"/><rect x="7" y="327" width="1" height="1" fill="#fff"/><rect x="1414" y="324" width="7" height="7" fill="#0000ff"/><rect x="1417" y="327" width="1" height="1" fill="#fff"/><rect x="1421" y="324" width="1" height="7" fill="#fff"/><rect x="5" y="402" width="1416" height="3" fill="#0000ff"/></g><path d="M1130.5,22 L1140.5,22 L1135.5,27.5 Z" fill="#c0c0c0"/><path d="M5,793.5 L5,799 L10.5,799 Z" fill="#c8c8c8"/><g shape-rendering="crispEdges"><rect x="1421" y="30" width="2" height="1" fill="#000"/><text x="1426" y="35" font-family="Liberation Sans, sans-serif" font-size="10" fill="#000" textLength="33" lengthAdjust="spacingAndGlyphs">7.21290</text><rect x="1421" y="63" width="2" height="1" fill="#000"/><text x="1426" y="68" font-family="Liberation Sans, sans-serif" font-size="10" fill="#000" textLength="33" lengthAdjust="spacingAndGlyphs">7.17890</text><rect x="1421" y="96" width="2" height="1" fill="#000"/><text x="1426" y="101" font-family="Liberation Sans, sans-serif" font-size="10" fill="#000" textLength="33" lengthAdjust="spacingAndGlyphs">7.14390</text><rect x="1421" y="129" width="2" height="1" fill="#000"/><text x="1426" y="134" font-family="Liberation Sans, sans-serif" font-size="10" fill="#000" textLength="33" lengthAdjust="spacingAndGlyphs">7.10890</text><rect x="1421" y="162" width="2" height="1" fill="#000"/><text x="1426" y="167" font-family="Liberation Sans, sans-serif" font-size="10" fill="#000" textLength="33" lengthAdjust="spacingAndGlyphs">7.07490</text><rect x="1421" y="195" width="2" height="1" fill="#000"/><text x="1426" y="200" font-family="Liberation Sans, sans-serif" font-size="10" fill="#000" textLength="33" lengthAdjust="spacingAndGlyphs">7.03990</text><rect x="1421" y="228" width="2" height="1" fill="#000"/><text x="1426" y="233" font-family="Liberation Sans, sans-serif" font-size="10" fill="#000" textLength="33" lengthAdjust="spacingAndGlyphs">7.00490</text><rect x="1421" y="261" width="2" height="1" fill="#000"/><text x="1426" y="266" font-family="Liberation Sans, sans-serif" font-size="10" fill="#000" textLength="33" lengthAdjust="spacingAndGlyphs">6.97090</text><rect x="1421" y="294" width="2" height="1" fill="#000"/><text x="1426" y="299" font-family="Liberation Sans, sans-serif" font-size="10" fill="#000" textLength="33" lengthAdjust="spacingAndGlyphs">6.93590</text><rect x="1421" y="327" width="2" height="1" fill="#000"/><text x="1426" y="332" font-family="Liberation Sans, sans-serif" font-size="10" fill="#000" textLength="33" lengthAdjust="spacingAndGlyphs">6.90090</text><rect x="1421" y="360" width="2" height="1" fill="#000"/><text x="1426" y="365" font-family="Liberation Sans, sans-serif" font-size="10" fill="#000" textLength="33" lengthAdjust="spacingAndGlyphs">6.86690</text><rect x="1421" y="393" width="2" height="1" fill="#000"/><text x="1426" y="398" font-family="Liberation Sans, sans-serif" font-size="10" fill="#000" textLength="33" lengthAdjust="spacingAndGlyphs">6.83190</text><rect x="1421" y="426" width="2" height="1" fill="#000"/><text x="1426" y="431" font-family="Liberation Sans, sans-serif" font-size="10" fill="#000" textLength="33" lengthAdjust="spacingAndGlyphs">6.79690</text><rect x="1421" y="459" width="2" height="1" fill="#000"/><text x="1426" y="464" font-family="Liberation Sans, sans-serif" font-size="10" fill="#000" textLength="33" lengthAdjust="spacingAndGlyphs">6.76290</text><rect x="1421" y="492" width="2" height="1" fill="#000"/><text x="1426" y="497" font-family="Liberation Sans, sans-serif" font-size="10" fill="#000" textLength="33" lengthAdjust="spacingAndGlyphs">6.72790</text><rect x="1421" y="525" width="2" height="1" fill="#000"/><text x="1426" y="530" font-family="Liberation Sans, sans-serif" font-size="10" fill="#000" textLength="33" lengthAdjust="spacingAndGlyphs">6.69290</text><rect x="1421" y="558" width="2" height="1" fill="#000"/><text x="1426" y="563" font-family="Liberation Sans, sans-serif" font-size="10" fill="#000" textLength="33" lengthAdjust="spacingAndGlyphs">6.65890</text></g><rect x="1422" y="131" width="38" height="11" fill="#ff0000" shape-rendering="crispEdges"/><text x="1426" y="140" font-family="Liberation Sans, sans-serif" font-size="10" fill="#fff" textLength="33" lengthAdjust="spacingAndGlyphs">7.10051</text><rect x="1422" y="226" width="38" height="11" fill="#00ff00" shape-rendering="crispEdges"/><text x="1426" y="235" font-family="Liberation Sans, sans-serif" font-size="10" fill="#fff" textLength="33" lengthAdjust="spacingAndGlyphs">7.00089</text><rect x="1422" y="321" width="38" height="11" fill="#0000ff" shape-rendering="crispEdges"/><text x="1426" y="330" font-family="Liberation Sans, sans-serif" font-size="10" fill="#fff" textLength="33" lengthAdjust="spacingAndGlyphs">6.90100</text><rect x="1422" y="397" width="38" height="11" fill="#0000ff" shape-rendering="crispEdges"/><text x="1426" y="406" font-family="Liberation Sans, sans-serif" font-size="10" fill="#fff" textLength="33" lengthAdjust="spacingAndGlyphs">6.82103</text><path d="M8,32 L15,32 L11.5,28 Z" fill="#000"/><text x="20.5" y="33" font-family="Liberation Sans, sans-serif" font-size="10" fill="#000" textLength="68" lengthAdjust="spacingAndGlyphs">USDCNH-,Daily</text><text x="95.3" y="33" font-family="Liberation Sans, sans-serif" font-size="10" fill="#000" textLength="140.3" lengthAdjust="spacingAndGlyphs">7.00563 7.00609 6.99763 7.00166</text><g clip-path="url(#cd)" shape-rendering="crispEdges"><rect x="5" y="611" width="1" height="16" fill="#c0c0c0"/><rect x="9" y="609" width="1" height="18" fill="#c0c0c0"/><rect x="13" y="608" width="1" height="19" fill="#c0c0c0"/><rect x="17" y="606" width="1" height="21" fill="#c0c0c0"/><rect x="21" y="609" width="1" height="18" fill="#c0c0c0"/><rect x="25" y="608" width="1" height="19" fill="#c0c0c0"/><rect x="29" y="608" width="1" height="19" fill="#c0c0c0"/><rect x="33" y="608" width="1" height="19" fill="#c0c0c0"/><rect x="37" y="608" width="1" height="19" fill="#c0c0c0"/><rect x="41" y="606" width="1" height="21" fill="#c0c0c0"/><rect x="45" y="605" width="1" height="22" fill="#c0c0c0"/><rect x="49" y="605" width="1" height="22" fill="#c0c0c0"/><rect x="53" y="605" width="1" height="22" fill="#c0c0c0"/><rect x="57" y="605" width="1" height="22" fill="#c0c0c0"/><rect x="61" y="604" width="1" height="23" fill="#c0c0c0"/><rect x="65" y="604" width="1" height="23" fill="#c0c0c0"/><rect x="69" y="603" width="1" height="24" fill="#c0c0c0"/><rect x="73" y="602" width="1" height="25" fill="#c0c0c0"/><rect x="77" y="601" width="1" height="26" fill="#c0c0c0"/><rect x="81" y="605" width="1" height="22" fill="#c0c0c0"/><rect x="85" y="611" width="1" height="16" fill="#c0c0c0"/><rect x="89" y="614" width="1" height="13" fill="#c0c0c0"/><rect x="93" y="616" width="1" height="11" fill="#c0c0c0"/><rect x="97" y="618" width="1" height="9" fill="#c0c0c0"/><rect x="101" y="618" width="1" height="9" fill="#c0c0c0"/><rect x="105" y="617" width="1" height="10" fill="#c0c0c0"/><rect x="109" y="615" width="1" height="12" fill="#c0c0c0"/><rect x="113" y="615" width="1" height="12" fill="#c0c0c0"/><rect x="117" y="616" width="1" height="11" fill="#c0c0c0"/><rect x="121" y="618" width="1" height="9" fill="#c0c0c0"/><rect x="125" y="620" width="1" height="7" fill="#c0c0c0"/><rect x="129" y="620" width="1" height="7" fill="#c0c0c0"/><rect x="133" y="620" width="1" height="7" fill="#c0c0c0"/><rect x="137" y="621" width="1" height="6" fill="#c0c0c0"/><rect x="141" y="622" width="1" height="5" fill="#c0c0c0"/><rect x="145" y="621" width="1" height="6" fill="#c0c0c0"/><rect x="149" y="621" width="1" height="6" fill="#c0c0c0"/><rect x="153" y="620" width="1" height="7" fill="#c0c0c0"/><rect x="157" y="620" width="1" height="7" fill="#c0c0c0"/><rect x="161" y="621" width="1" height="6" fill="#c0c0c0"/><rect x="165" y="621" width="1" height="6" fill="#c0c0c0"/><rect x="169" y="626" width="1" height="1" fill="#c0c0c0"/><rect x="173" y="626" width="1" height="7" fill="#c0c0c0"/><rect x="177" y="626" width="1" height="11" fill="#c0c0c0"/><rect x="181" y="626" width="1" height="13" fill="#c0c0c0"/><rect x="185" y="626" width="1" height="14" fill="#c0c0c0"/><rect x="189" y="626" width="1" height="12" fill="#c0c0c0"/><rect x="193" y="626" width="1" height="12" fill="#c0c0c0"/><rect x="197" y="626" width="1" height="14" fill="#c0c0c0"/><rect x="201" y="626" width="1" height="14" fill="#c0c0c0"/><rect x="205" y="626" width="1" height="13" fill="#c0c0c0"/><rect x="209" y="626" width="1" height="12" fill="#c0c0c0"/><rect x="213" y="626" width="1" height="11" fill="#c0c0c0"/><rect x="217" y="626" width="1" height="10" fill="#c0c0c0"/><rect x="221" y="626" width="1" height="10" fill="#c0c0c0"/><rect x="225" y="626" width="1" height="7" fill="#c0c0c0"/><rect x="229" y="626" width="1" height="6" fill="#c0c0c0"/><rect x="233" y="626" width="1" height="6" fill="#c0c0c0"/><rect x="237" y="626" width="1" height="7" fill="#c0c0c0"/><rect x="241" y="626" width="1" height="8" fill="#c0c0c0"/><rect x="245" y="626" width="1" height="8" fill="#c0c0c0"/><rect x="249" y="626" width="1" height="10" fill="#c0c0c0"/><rect x="253" y="626" width="1" height="11" fill="#c0c0c0"/><rect x="257" y="626" width="1" height="10" fill="#c0c0c0"/><rect x="261" y="626" width="1" height="10" fill="#c0c0c0"/><rect x="265" y="626" width="1" height="11" fill="#c0c0c0"/><rect x="269" y="626" width="1" height="13" fill="#c0c0c0"/><rect x="273" y="626" width="1" height="14" fill="#c0c0c0"/><rect x="277" y="626" width="1" height="18" fill="#c0c0c0"/><rect x="281" y="626" width="1" height="22" fill="#c0c0c0"/><rect x="285" y="626" width="1" height="28" fill="#c0c0c0"/><rect x="289" y="626" width="1" height="32" fill="#c0c0c0"/><rect x="293" y="626" width="1" height="34" fill="#c0c0c0"/><rect x="297" y="626" width="1" height="36" fill="#c0c0c0"/><rect x="301" y="626" width="1" height="36" fill="#c0c0c0"/><rect x="305" y="626" width="1" height="33" fill="#c0c0c0"/><rect x="309" y="626" width="1" height="31" fill="#c0c0c0"/><rect x="313" y="626" width="1" height="28" fill="#c0c0c0"/><rect x="317" y="626" width="1" height="27" fill="#c0c0c0"/><rect x="321" y="626" width="1" height="25" fill="#c0c0c0"/><rect x="325" y="626" width="1" height="27" fill="#c0c0c0"/><rect x="329" y="626" width="1" height="28" fill="#c0c0c0"/><rect x="333" y="626" width="1" height="30" fill="#c0c0c0"/><rect x="337" y="626" width="1" height="34" fill="#c0c0c0"/><rect x="341" y="626" width="1" height="36" fill="#c0c0c0"/><rect x="345" y="626" width="1" height="34" fill="#c0c0c0"/><rect x="349" y="626" width="1" height="30" fill="#c0c0c0"/><rect x="353" y="626" width="1" height="28" fill="#c0c0c0"/><rect x="357" y="626" width="1" height="25" fill="#c0c0c0"/><rect x="361" y="626" width="1" height="21" fill="#c0c0c0"/><rect x="365" y="626" width="1" height="19" fill="#c0c0c0"/><rect x="369" y="626" width="1" height="15" fill="#c0c0c0"/><rect x="373" y="626" width="1" height="14" fill="#c0c0c0"/><rect x="377" y="626" width="1" height="12" fill="#c0c0c0"/><rect x="381" y="626" width="1" height="12" fill="#c0c0c0"/><rect x="385" y="626" width="1" height="11" fill="#c0c0c0"/><rect x="389" y="626" width="1" height="10" fill="#c0c0c0"/><rect x="393" y="626" width="1" height="12" fill="#c0c0c0"/><rect x="397" y="626" width="1" height="16" fill="#c0c0c0"/><rect x="401" y="626" width="1" height="18" fill="#c0c0c0"/><rect x="405" y="626" width="1" height="21" fill="#c0c0c0"/><rect x="409" y="626" width="1" height="24" fill="#c0c0c0"/><rect x="413" y="626" width="1" height="27" fill="#c0c0c0"/><rect x="417" y="626" width="1" height="29" fill="#c0c0c0"/><rect x="421" y="626" width="1" height="29" fill="#c0c0c0"/><rect x="425" y="626" width="1" height="27" fill="#c0c0c0"/><rect x="429" y="626" width="1" height="26" fill="#c0c0c0"/><rect x="433" y="626" width="1" height="25" fill="#c0c0c0"/><rect x="437" y="626" width="1" height="23" fill="#c0c0c0"/><rect x="441" y="626" width="1" height="20" fill="#c0c0c0"/><rect x="445" y="626" width="1" height="17" fill="#c0c0c0"/><rect x="449" y="626" width="1" height="15" fill="#c0c0c0"/><rect x="453" y="626" width="1" height="15" fill="#c0c0c0"/><rect x="457" y="626" width="1" height="15" fill="#c0c0c0"/><rect x="461" y="626" width="1" height="14" fill="#c0c0c0"/><rect x="465" y="626" width="1" height="13" fill="#c0c0c0"/><rect x="469" y="626" width="1" height="12" fill="#c0c0c0"/><rect x="473" y="626" width="1" height="11" fill="#c0c0c0"/><rect x="477" y="626" width="1" height="13" fill="#c0c0c0"/><rect x="481" y="626" width="1" height="12" fill="#c0c0c0"/><rect x="485" y="626" width="1" height="10" fill="#c0c0c0"/><rect x="489" y="626" width="1" height="9" fill="#c0c0c0"/><rect x="493" y="626" width="1" height="8" fill="#c0c0c0"/><rect x="497" y="626" width="1" height="6" fill="#c0c0c0"/><rect x="501" y="626" width="1" height="4" fill="#c0c0c0"/><rect x="505" y="626" width="1" height="4" fill="#c0c0c0"/><rect x="509" y="626" width="1" height="4" fill="#c0c0c0"/><rect x="513" y="626" width="1" height="3" fill="#c0c0c0"/><rect x="517" y="626" width="1" height="4" fill="#c0c0c0"/><rect x="521" y="626" width="1" height="4" fill="#c0c0c0"/><rect x="525" y="626" width="1" height="5" fill="#c0c0c0"/><rect x="529" y="626" width="1" height="4" fill="#c0c0c0"/><rect x="533" y="626" width="1" height="4" fill="#c0c0c0"/><rect x="537" y="626" width="1" height="4" fill="#c0c0c0"/><rect x="541" y="626" width="1" height="3" fill="#c0c0c0"/><rect x="545" y="626" width="1" height="3" fill="#c0c0c0"/><rect x="549" y="626" width="1" height="4" fill="#c0c0c0"/><rect x="553" y="626" width="1" height="4" fill="#c0c0c0"/><rect x="557" y="626" width="1" height="7" fill="#c0c0c0"/><rect x="561" y="626" width="1" height="6" fill="#c0c0c0"/><rect x="565" y="626" width="1" height="6" fill="#c0c0c0"/><rect x="569" y="626" width="1" height="4" fill="#c0c0c0"/><rect x="573" y="626" width="1" height="2" fill="#c0c0c0"/><rect x="577" y="624" width="1" height="3" fill="#c0c0c0"/><rect x="581" y="623" width="1" height="4" fill="#c0c0c0"/><rect x="585" y="622" width="1" height="5" fill="#c0c0c0"/><rect x="589" y="621" width="1" height="6" fill="#c0c0c0"/><rect x="593" y="621" width="1" height="6" fill="#c0c0c0"/><rect x="597" y="620" width="1" height="7" fill="#c0c0c0"/><rect x="601" y="620" width="1" height="7" fill="#c0c0c0"/><rect x="605" y="616" width="1" height="11" fill="#c0c0c0"/><rect x="609" y="613" width="1" height="14" fill="#c0c0c0"/><rect x="613" y="609" width="1" height="18" fill="#c0c0c0"/><rect x="617" y="604" width="1" height="23" fill="#c0c0c0"/><rect x="621" y="599" width="1" height="28" fill="#c0c0c0"/><rect x="625" y="590" width="1" height="37" fill="#c0c0c0"/><rect x="629" y="585" width="1" height="42" fill="#c0c0c0"/><rect x="633" y="581" width="1" height="46" fill="#c0c0c0"/><rect x="637" y="576" width="1" height="51" fill="#c0c0c0"/><rect x="641" y="572" width="1" height="55" fill="#c0c0c0"/><rect x="645" y="570" width="1" height="57" fill="#c0c0c0"/><rect x="649" y="570" width="1" height="57" fill="#c0c0c0"/><rect x="653" y="570" width="1" height="57" fill="#c0c0c0"/><rect x="657" y="571" width="1" height="56" fill="#c0c0c0"/><rect x="661" y="573" width="1" height="54" fill="#c0c0c0"/><rect x="665" y="577" width="1" height="50" fill="#c0c0c0"/><rect x="669" y="579" width="1" height="48" fill="#c0c0c0"/><rect x="673" y="580" width="1" height="47" fill="#c0c0c0"/><rect x="677" y="581" width="1" height="46" fill="#c0c0c0"/><rect x="681" y="583" width="1" height="44" fill="#c0c0c0"/><rect x="685" y="586" width="1" height="41" fill="#c0c0c0"/><rect x="689" y="588" width="1" height="39" fill="#c0c0c0"/><rect x="693" y="590" width="1" height="37" fill="#c0c0c0"/><rect x="697" y="592" width="1" height="35" fill="#c0c0c0"/><rect x="701" y="592" width="1" height="35" fill="#c0c0c0"/><rect x="705" y="593" width="1" height="34" fill="#c0c0c0"/><rect x="709" y="596" width="1" height="31" fill="#c0c0c0"/><rect x="713" y="598" width="1" height="29" fill="#c0c0c0"/><rect x="717" y="599" width="1" height="28" fill="#c0c0c0"/><rect x="721" y="601" width="1" height="26" fill="#c0c0c0"/><rect x="725" y="602" width="1" height="25" fill="#c0c0c0"/><rect x="729" y="607" width="1" height="20" fill="#c0c0c0"/><rect x="733" y="611" width="1" height="16" fill="#c0c0c0"/><rect x="737" y="616" width="1" height="11" fill="#c0c0c0"/><rect x="741" y="621" width="1" height="6" fill="#c0c0c0"/><rect x="745" y="623" width="1" height="4" fill="#c0c0c0"/><rect x="749" y="625" width="1" height="2" fill="#c0c0c0"/><rect x="753" y="626" width="1" height="1" fill="#c0c0c0"/><rect x="757" y="626" width="1" height="3" fill="#c0c0c0"/><rect x="761" y="626" width="1" height="4" fill="#c0c0c0"/><rect x="765" y="626" width="1" height="6" fill="#c0c0c0"/><rect x="769" y="626" width="1" height="6" fill="#c0c0c0"/><rect x="773" y="626" width="1" height="6" fill="#c0c0c0"/><rect x="777" y="626" width="1" height="6" fill="#c0c0c0"/><rect x="781" y="626" width="1" height="5" fill="#c0c0c0"/><rect x="785" y="626" width="1" height="4" fill="#c0c0c0"/><rect x="789" y="626" width="1" height="3" fill="#c0c0c0"/><rect x="793" y="626" width="1" height="4" fill="#c0c0c0"/><rect x="797" y="626" width="1" height="4" fill="#c0c0c0"/><rect x="801" y="626" width="1" height="4" fill="#c0c0c0"/><rect x="805" y="626" width="1" height="4" fill="#c0c0c0"/><rect x="809" y="626" width="1" height="4" fill="#c0c0c0"/><rect x="813" y="626" width="1" height="4" fill="#c0c0c0"/><rect x="817" y="626" width="1" height="4" fill="#c0c0c0"/><rect x="821" y="626" width="1" height="4" fill="#c0c0c0"/><rect x="825" y="626" width="1" height="3" fill="#c0c0c0"/><rect x="829" y="626" width="1" height="3" fill="#c0c0c0"/><rect x="833" y="626" width="1" height="3" fill="#c0c0c0"/><rect x="837" y="626" width="1" height="4" fill="#c0c0c0"/><rect x="841" y="626" width="1" height="3" fill="#c0c0c0"/><rect x="845" y="626" width="1" height="2" fill="#c0c0c0"/><rect x="849" y="626" width="1" height="1" fill="#c0c0c0"/><rect x="853" y="624" width="1" height="3" fill="#c0c0c0"/><rect x="857" y="617" width="1" height="10" fill="#c0c0c0"/><rect x="861" y="612" width="1" height="15" fill="#c0c0c0"/><rect x="865" y="595" width="1" height="32" fill="#c0c0c0"/><rect x="869" y="589" width="1" height="38" fill="#c0c0c0"/><rect x="873" y="582" width="1" height="45" fill="#c0c0c0"/><rect x="877" y="577" width="1" height="50" fill="#c0c0c0"/><rect x="881" y="573" width="1" height="54" fill="#c0c0c0"/><rect x="885" y="570" width="1" height="57" fill="#c0c0c0"/><rect x="889" y="575" width="1" height="52" fill="#c0c0c0"/><rect x="893" y="577" width="1" height="50" fill="#c0c0c0"/><rect x="897" y="579" width="1" height="48" fill="#c0c0c0"/><rect x="901" y="581" width="1" height="46" fill="#c0c0c0"/><rect x="905" y="581" width="1" height="46" fill="#c0c0c0"/><rect x="909" y="582" width="1" height="45" fill="#c0c0c0"/><rect x="913" y="584" width="1" height="43" fill="#c0c0c0"/><rect x="917" y="583" width="1" height="44" fill="#c0c0c0"/><rect x="921" y="580" width="1" height="47" fill="#c0c0c0"/><rect x="925" y="575" width="1" height="52" fill="#c0c0c0"/><rect x="929" y="572" width="1" height="55" fill="#c0c0c0"/><rect x="933" y="570" width="1" height="57" fill="#c0c0c0"/><rect x="937" y="571" width="1" height="56" fill="#c0c0c0"/><rect x="941" y="571" width="1" height="56" fill="#c0c0c0"/><rect x="945" y="570" width="1" height="57" fill="#c0c0c0"/><rect x="949" y="570" width="1" height="57" fill="#c0c0c0"/><rect x="953" y="573" width="1" height="54" fill="#c0c0c0"/><rect x="957" y="577" width="1" height="50" fill="#c0c0c0"/><rect x="961" y="584" width="1" height="43" fill="#c0c0c0"/><rect x="965" y="588" width="1" height="39" fill="#c0c0c0"/><rect x="969" y="593" width="1" height="34" fill="#c0c0c0"/><rect x="973" y="598" width="1" height="29" fill="#c0c0c0"/><rect x="977" y="605" width="1" height="22" fill="#c0c0c0"/><rect x="981" y="612" width="1" height="15" fill="#c0c0c0"/><rect x="985" y="616" width="1" height="11" fill="#c0c0c0"/><rect x="989" y="618" width="1" height="9" fill="#c0c0c0"/><rect x="993" y="619" width="1" height="8" fill="#c0c0c0"/><rect x="997" y="619" width="1" height="8" fill="#c0c0c0"/><rect x="1001" y="618" width="1" height="9" fill="#c0c0c0"/><rect x="1005" y="618" width="1" height="9" fill="#c0c0c0"/><rect x="1009" y="618" width="1" height="9" fill="#c0c0c0"/><rect x="1013" y="616" width="1" height="11" fill="#c0c0c0"/><rect x="1017" y="615" width="1" height="12" fill="#c0c0c0"/><rect x="1021" y="613" width="1" height="14" fill="#c0c0c0"/><rect x="1025" y="612" width="1" height="15" fill="#c0c0c0"/><rect x="1029" y="610" width="1" height="17" fill="#c0c0c0"/><rect x="1033" y="610" width="1" height="17" fill="#c0c0c0"/><rect x="1037" y="611" width="1" height="16" fill="#c0c0c0"/><rect x="1041" y="613" width="1" height="14" fill="#c0c0c0"/><rect x="1045" y="613" width="1" height="14" fill="#c0c0c0"/><rect x="1049" y="611" width="1" height="16" fill="#c0c0c0"/><rect x="1053" y="610" width="1" height="17" fill="#c0c0c0"/><rect x="1057" y="614" width="1" height="13" fill="#c0c0c0"/><rect x="1061" y="619" width="1" height="8" fill="#c0c0c0"/><rect x="1065" y="624" width="1" height="3" fill="#c0c0c0"/><rect x="1069" y="626" width="1" height="1" fill="#c0c0c0"/><rect x="1073" y="626" width="1" height="2" fill="#c0c0c0"/><rect x="1077" y="626" width="1" height="4" fill="#c0c0c0"/><rect x="1081" y="626" width="1" height="6" fill="#c0c0c0"/><rect x="1085" y="626" width="1" height="8" fill="#c0c0c0"/><rect x="1089" y="626" width="1" height="9" fill="#c0c0c0"/><rect x="1093" y="626" width="1" height="10" fill="#c0c0c0"/><rect x="1097" y="626" width="1" height="11" fill="#c0c0c0"/><rect x="1101" y="626" width="1" height="13" fill="#c0c0c0"/><rect x="1105" y="626" width="1" height="13" fill="#c0c0c0"/><rect x="1109" y="626" width="1" height="13" fill="#c0c0c0"/><rect x="1113" y="626" width="1" height="14" fill="#c0c0c0"/><rect x="1117" y="626" width="1" height="15" fill="#c0c0c0"/><rect x="1121" y="626" width="1" height="16" fill="#c0c0c0"/><rect x="1125" y="626" width="1" height="18" fill="#c0c0c0"/><rect x="1129" y="626" width="1" height="21" fill="#c0c0c0"/><rect x="1133" y="626" width="1" height="22" fill="#c0c0c0"/><rect x="1137" y="626" width="1" height="26" fill="#c0c0c0"/><rect x="1141" y="626" width="1" height="28" fill="#c0c0c0"/><rect x="1145" y="626" width="1" height="27" fill="#c0c0c0"/><rect x="1149" y="626" width="1" height="27" fill="#c0c0c0"/></g><g clip-path="url(#cd)"><polyline points="5.5,614.2 9.5,613.1 13.5,612.2 17.5,611.3 21.5,610.7 25.5,610.2 29.5,609.6 33.5,609.3 37.5,608.7 41.5,608.2 45.5,607.9 49.5,607.5 53.5,607.4 57.5,606.9 61.5,606.5 65.5,606.1 69.5,605.5 73.5,604.8 77.5,604.3 81.5,604.3 85.5,604.9 89.5,605.9 93.5,607.2 97.5,608.7 101.5,610.2 105.5,611.8 109.5,613.2 113.5,614.8 117.5,616.1 121.5,616.8 125.5,617.5 129.5,617.9 133.5,618.2 137.5,618.5 141.5,619.1 145.5,619.7 149.5,620.3 153.5,620.7 157.5,621.1 161.5,621.2 165.5,621.3 169.5,622.0 173.5,623.2 177.5,624.8 181.5,626.7 185.5,628.7 189.5,630.6 193.5,632.4 197.5,634.3 201.5,636.4 205.5,637.6 209.5,638.1 213.5,638.1 217.5,637.8 221.5,637.3 225.5,636.8 229.5,636.2 233.5,635.4 237.5,634.6 241.5,634.1 245.5,633.7 249.5,633.5 253.5,633.6 257.5,633.7 261.5,634.0 265.5,634.4 269.5,635.1 273.5,635.9 277.5,637.0 281.5,638.6 285.5,640.6 289.5,643.0 293.5,645.6 297.5,648.6 301.5,651.4 305.5,653.7 309.5,655.7 313.5,656.8 317.5,657.3 321.5,657.0 325.5,656.4 329.5,655.8 333.5,655.1 337.5,654.8 341.5,655.1 345.5,655.3 349.5,655.5 353.5,655.7 357.5,655.7 361.5,655.0 365.5,654.0 369.5,652.3 373.5,650.2 377.5,647.5 381.5,645.1 385.5,643.0 389.5,641.0 393.5,639.6 397.5,639.0 401.5,638.9 405.5,639.5 409.5,640.6 413.5,642.2 417.5,644.2 421.5,646.2 425.5,648.1 429.5,649.6 433.5,650.6 437.5,651.1 441.5,651.1 445.5,650.3 449.5,649.0 453.5,647.4 457.5,645.9 461.5,644.4 465.5,643.0 469.5,641.5 473.5,640.1 477.5,639.3 481.5,638.7 485.5,638.1 489.5,637.4 493.5,636.6 497.5,635.7 501.5,634.7 505.5,633.9 509.5,633.1 513.5,632.0 517.5,631.2 521.5,630.5 525.5,630.0 529.5,629.6 533.5,629.4 537.5,629.4 541.5,629.2 545.5,629.2 549.5,629.3 553.5,629.3 557.5,629.6 561.5,629.8 565.5,630.0 569.5,629.9 573.5,629.7 577.5,629.4 581.5,628.8 585.5,628.0 589.5,627.1 593.5,626.0 597.5,624.8 601.5,623.7 605.5,622.3 609.5,620.7 613.5,619.0 617.5,616.9 621.5,614.3 625.5,610.9 629.5,606.8 633.5,602.5 637.5,597.6 641.5,592.7 645.5,588.0 649.5,583.6 653.5,579.8 657.5,576.7 661.5,574.8 665.5,573.8 669.5,573.6 673.5,574.0 677.5,575.0 681.5,576.4 685.5,578.2 689.5,580.2 693.5,582.4 697.5,584.4 701.5,586.2 705.5,587.8 709.5,589.6 713.5,591.4 717.5,593.2 721.5,594.9 725.5,596.4 729.5,598.3 733.5,600.4 737.5,603.0 741.5,606.1 745.5,609.2 749.5,612.1 753.5,615.1 757.5,618.1 761.5,621.1 765.5,623.9 769.5,626.1 773.5,627.7 777.5,628.9 781.5,629.6 785.5,630.0 789.5,630.2 793.5,630.3 797.5,630.3 801.5,630.1 805.5,629.9 809.5,629.7 813.5,629.5 817.5,629.5 821.5,629.5 825.5,629.5 829.5,629.4 833.5,629.3 837.5,629.3 841.5,629.2 845.5,628.9 849.5,628.6 853.5,628.0 857.5,626.7 861.5,624.9 865.5,621.3 869.5,617.0 873.5,611.8 877.5,606.1 881.5,600.1 885.5,593.9 889.5,588.4 893.5,583.9 897.5,580.2 901.5,578.7 905.5,577.8 909.5,577.8 913.5,578.5 917.5,579.6 921.5,580.7 925.5,580.8 929.5,580.3 933.5,579.3 937.5,578.2 941.5,577.1 945.5,575.7 949.5,574.2 953.5,573.1 957.5,572.8 961.5,573.8 965.5,575.5 969.5,578.0 973.5,581.0 977.5,584.7 981.5,589.5 985.5,594.6 989.5,599.5 993.5,604.2 997.5,608.1 1001.5,611.4 1005.5,614.1 1009.5,616.3 1013.5,617.5 1017.5,617.9 1021.5,617.6 1025.5,616.9 1029.5,615.9 1033.5,614.8 1037.5,614.1 1041.5,613.6 1045.5,613.1 1049.5,612.5 1053.5,611.9 1057.5,612.0 1061.5,612.9 1065.5,614.3 1069.5,616.2 1073.5,617.9 1077.5,619.7 1081.5,621.7 1085.5,624.1 1089.5,626.7 1093.5,629.1 1097.5,630.9 1101.5,632.5 1105.5,633.8 1109.5,635.1 1113.5,636.3 1117.5,637.3 1121.5,638.2 1125.5,639.3 1129.5,640.5 1133.5,641.8 1137.5,643.3 1141.5,645.0 1145.5,646.6 1149.5,648.0" fill="none" stroke-dasharray="3,3" stroke="#ff0000" stroke-width="1" shape-rendering="crispEdges"/></g><text x="9.3" y="576" font-family="Liberation Sans, sans-serif" font-size="10.5" fill="#000" textLength="153.7" lengthAdjust="spacingAndGlyphs">MACD(12,26,9) -0.026668 -0.022077</text><rect x="1421" y="565" width="2" height="1" fill="#000"/><rect x="1421" y="626" width="2" height="1" fill="#000"/><rect x="1421" y="666" width="2" height="1" fill="#000"/><text x="1424" y="575" font-family="Liberation Sans, sans-serif" font-size="10" fill="#000" textLength="36" lengthAdjust="spacingAndGlyphs">0.060687</text><text x="1424" y="630" font-family="Liberation Sans, sans-serif" font-size="10" fill="#000" textLength="18" lengthAdjust="spacingAndGlyphs">0.00</text><text x="1424" y="664" font-family="Liberation Sans, sans-serif" font-size="10" fill="#000" textLength="36" lengthAdjust="spacingAndGlyphs">-0.04043</text><g shape-rendering="crispEdges"><line x1="6" y1="709.5" x2="1420" y2="709.5" stroke="#c0c0c0" stroke-dasharray="3,3"/><line x1="6" y1="760.5" x2="1420" y2="760.5" stroke="#c0c0c0" stroke-dasharray="3,3"/></g><g clip-path="url(#cr)"><polyline points="5.5,722.6 9.5,719.6 13.5,723.6 17.5,719.3 21.5,734.2 25.5,725.0 29.5,725.8 33.5,728.5 37.5,724.3 41.5,720.9 45.5,723.2 49.5,722.3 53.5,723.0 57.5,721.4 61.5,720.1 65.5,721.0 69.5,715.0 73.5,716.4 77.5,714.5 81.5,735.4 85.5,743.7 89.5,736.9 93.5,736.0 97.5,735.1 101.5,730.2 105.5,727.9 109.5,722.9 113.5,729.8 117.5,731.2 121.5,735.3 125.5,738.3 129.5,732.7 133.5,730.4 137.5,735.5 141.5,735.2 145.5,729.4 149.5,729.9 153.5,727.7 157.5,733.0 161.5,734.2 165.5,729.0 169.5,752.2 173.5,756.4 177.5,751.7 181.5,746.8 185.5,745.4 189.5,735.2 193.5,741.4 197.5,746.9 201.5,742.9 205.5,737.2 209.5,738.1 213.5,740.1 217.5,736.4 221.5,739.8 225.5,730.8 229.5,736.2 233.5,738.0 237.5,739.6 241.5,744.1 245.5,741.4 249.5,745.1 253.5,745.7 257.5,739.8 261.5,740.2 265.5,745.3 269.5,750.8 273.5,748.0 277.5,758.5 281.5,762.5 285.5,766.9 289.5,767.0 293.5,762.6 297.5,764.3 301.5,757.0 305.5,745.7 309.5,747.1 313.5,741.7 317.5,746.0 321.5,745.6 325.5,756.5 329.5,754.8 333.5,756.8 337.5,764.3 341.5,763.0 345.5,745.8 349.5,738.9 353.5,743.7 357.5,739.0 361.5,735.9 365.5,737.3 369.5,732.4 373.5,739.6 377.5,735.5 381.5,739.6 385.5,739.3 389.5,738.3 393.5,747.2 397.5,752.9 401.5,749.0 405.5,753.7 409.5,757.1 413.5,757.3 417.5,758.3 421.5,751.3 425.5,743.5 429.5,745.9 433.5,746.7 437.5,742.8 441.5,736.6 445.5,737.3 449.5,738.0 453.5,744.4 457.5,745.1 461.5,738.2 465.5,742.1 469.5,737.5 473.5,739.4 477.5,749.7 481.5,738.3 485.5,734.6 489.5,737.9 493.5,736.1 497.5,730.9 501.5,730.9 505.5,737.7 509.5,736.5 513.5,734.9 517.5,739.7 521.5,738.3 525.5,741.2 529.5,736.9 533.5,736.9 537.5,735.4 541.5,732.3 545.5,741.6 549.5,742.0 553.5,737.6 557.5,751.3 561.5,737.2 565.5,736.0 569.5,730.5 573.5,728.2 577.5,723.9 581.5,728.2 585.5,727.4 589.5,728.5 593.5,731.6 597.5,725.1 601.5,730.4 605.5,714.5 609.5,712.5 613.5,710.3 617.5,703.7 621.5,702.0 625.5,693.6 629.5,699.0 633.5,698.7 637.5,695.7 641.5,694.5 645.5,699.3 649.5,699.8 653.5,699.4 657.5,702.1 661.5,710.5 665.5,713.0 669.5,710.1 673.5,708.3 677.5,707.0 681.5,710.4 685.5,717.0 689.5,714.7 693.5,714.1 697.5,713.5 701.5,709.4 705.5,709.4 709.5,720.2 713.5,719.4 717.5,717.9 721.5,717.1 725.5,717.9 729.5,738.6 733.5,740.4 737.5,751.4 741.5,749.2 745.5,743.9 749.5,739.4 753.5,742.7 757.5,744.0 761.5,745.7 765.5,750.1 769.5,737.1 773.5,738.0 777.5,740.8 781.5,731.5 785.5,734.4 789.5,732.1 793.5,741.7 797.5,739.2 801.5,737.7 805.5,740.5 809.5,736.2 813.5,738.7 817.5,739.7 821.5,735.6 825.5,735.0 829.5,734.4 833.5,740.5 837.5,741.7 841.5,734.8 845.5,728.7 849.5,731.5 853.5,720.5 857.5,703.2 861.5,702.2 865.5,686.7 869.5,711.0 873.5,707.4 877.5,708.2 881.5,706.7 885.5,706.5 889.5,726.6 893.5,721.9 897.5,722.6 901.5,723.1 905.5,718.7 909.5,719.2 913.5,720.1 917.5,716.5 921.5,709.9 925.5,706.2 929.5,706.8 933.5,706.3 937.5,714.8 941.5,711.6 945.5,707.8 949.5,712.6 953.5,721.1 957.5,723.0 961.5,731.8 965.5,728.8 969.5,730.9 973.5,735.6 977.5,741.8 981.5,745.1 985.5,740.0 989.5,735.3 993.5,734.6 997.5,731.3 1001.5,727.8 1005.5,730.4 1009.5,731.0 1013.5,725.8 1017.5,726.5 1021.5,721.0 1025.5,722.5 1029.5,721.5 1033.5,722.3 1037.5,728.7 1041.5,735.5 1045.5,727.5 1049.5,721.3 1053.5,722.4 1057.5,738.8 1061.5,745.0 1065.5,746.2 1069.5,741.4 1073.5,736.9 1077.5,742.6 1081.5,743.8 1085.5,744.6 1089.5,742.8 1093.5,745.9 1097.5,742.1 1101.5,747.9 1105.5,743.3 1109.5,743.0 1113.5,748.2 1117.5,748.2 1121.5,749.7 1125.5,753.9 1129.5,759.3 1133.5,754.0 1137.5,762.4 1141.5,755.0 1145.5,749.0 1149.5,749.7" fill="none" stroke="#1e90ff" stroke-width="1" shape-rendering="crispEdges"/></g><text x="9.5" y="682" font-family="Liberation Sans, sans-serif" font-size="10.5" fill="#000" textLength="67.5" lengthAdjust="spacingAndGlyphs">RSI(14) 38.1098</text><rect x="1421" y="671" width="2" height="1" fill="#000"/><text x="1424" y="680" font-family="Liberation Sans, sans-serif" font-size="10" fill="#000">100</text><rect x="1421" y="709" width="2" height="1" fill="#000"/><text x="1424" y="713" font-family="Liberation Sans, sans-serif" font-size="10" fill="#000">70</text><rect x="1421" y="760" width="2" height="1" fill="#000"/><text x="1424" y="764" font-family="Liberation Sans, sans-serif" font-size="10" fill="#000">30</text><rect x="1421" y="798" width="2" height="1" fill="#000"/><text x="1424" y="796" font-family="Liberation Sans, sans-serif" font-size="10" fill="#000">0</text><rect x="5" y="800" width="1" height="3" fill="#000"/><text x="4.1" y="812" font-family="Liberation Sans, sans-serif" font-size="10" fill="#000" textLength="45.8" lengthAdjust="spacingAndGlyphs">5 Oct 2018</text><rect x="69" y="800" width="1" height="3" fill="#000"/><text x="67.9" y="812" font-family="Liberation Sans, sans-serif" font-size="10" fill="#000" textLength="50.5" lengthAdjust="spacingAndGlyphs">29 Oct 2018</text><rect x="133" y="800" width="1" height="3" fill="#000"/><text x="132.3" y="812" font-family="Liberation Sans, sans-serif" font-size="10" fill="#000" textLength="53.5" lengthAdjust="spacingAndGlyphs">20 Nov 2018</text><rect x="197" y="800" width="1" height="3" fill="#000"/><text x="196.7" y="812" font-family="Liberation Sans, sans-serif" font-size="10" fill="#000" textLength="51.3" lengthAdjust="spacingAndGlyphs">12 Dec 2018</text><rect x="261" y="800" width="1" height="3" fill="#000"/><text x="260.3" y="812" font-family="Liberation Sans, sans-serif" font-size="10" fill="#000" textLength="44.4" lengthAdjust="spacingAndGlyphs">3 Jan 2019</text><rect x="325" y="800" width="1" height="3" fill="#000"/><text x="324.0" y="812" font-family="Liberation Sans, sans-serif" font-size="10" fill="#000" textLength="49.4" lengthAdjust="spacingAndGlyphs">25 Jan 2019</text><rect x="389" y="800" width="1" height="3" fill="#000"/><text x="388.2" y="812" font-family="Liberation Sans, sans-serif" font-size="10" fill="#000" textLength="51.5" lengthAdjust="spacingAndGlyphs">18 Feb 2019</text><rect x="453" y="800" width="1" height="3" fill="#000"/><text x="452.6" y="812" font-family="Liberation Sans, sans-serif" font-size="10" fill="#000" textLength="51.2" lengthAdjust="spacingAndGlyphs">12 Mar 2019</text><rect x="517" y="800" width="1" height="3" fill="#000"/><text x="516.4" y="812" font-family="Liberation Sans, sans-serif" font-size="10" fill="#000" textLength="45.0" lengthAdjust="spacingAndGlyphs">3 Apr 2019</text><rect x="581" y="800" width="1" height="3" fill="#000"/><text x="580.5" y="812" font-family="Liberation Sans, sans-serif" font-size="10" fill="#000" textLength="50.2" lengthAdjust="spacingAndGlyphs">26 Apr 2019</text><rect x="645" y="800" width="1" height="3" fill="#000"/><text x="644.4" y="812" font-family="Liberation Sans, sans-serif" font-size="10" fill="#000" textLength="54.0" lengthAdjust="spacingAndGlyphs">20 May 2019</text><rect x="709" y="800" width="1" height="3" fill="#000"/><text x="708.2" y="812" font-family="Liberation Sans, sans-serif" font-size="10" fill="#000" textLength="49.3" lengthAdjust="spacingAndGlyphs">11 Jun 2019</text><rect x="773" y="800" width="1" height="3" fill="#000"/><text x="772.3" y="812" font-family="Liberation Sans, sans-serif" font-size="10" fill="#000" textLength="41.7" lengthAdjust="spacingAndGlyphs">3 Jul 2019</text><rect x="837" y="800" width="1" height="3" fill="#000"/><text x="836.2" y="812" font-family="Liberation Sans, sans-serif" font-size="10" fill="#000" textLength="46.5" lengthAdjust="spacingAndGlyphs">25 Jul 2019</text><rect x="901" y="800" width="1" height="3" fill="#000"/><text x="900.3" y="812" font-family="Liberation Sans, sans-serif" font-size="10" fill="#000" textLength="52.9" lengthAdjust="spacingAndGlyphs">16 Aug 2019</text><rect x="965" y="800" width="1" height="3" fill="#000"/><text x="964.1" y="812" font-family="Liberation Sans, sans-serif" font-size="10" fill="#000" textLength="46.6" lengthAdjust="spacingAndGlyphs">9 Sep 2019</text><rect x="1029" y="800" width="1" height="3" fill="#000"/><text x="1028.5" y="812" font-family="Liberation Sans, sans-serif" font-size="10" fill="#000" textLength="45.2" lengthAdjust="spacingAndGlyphs">1 Oct 2019</text><rect x="1093" y="800" width="1" height="3" fill="#000"/><text x="1092.3" y="812" font-family="Liberation Sans, sans-serif" font-size="10" fill="#000" textLength="50.4" lengthAdjust="spacingAndGlyphs">23 Oct 2019</text><rect x="0" y="820" width="1460" height="1" fill="#e3e3e3"/><rect x="0" y="822" width="1460" height="1" fill="#000"/><rect x="0" y="823" width="1460" height="19" fill="#f0f0f0"/><rect x="2" y="823" width="1458" height="1" fill="#ffffff"/><rect x="0" y="842" width="1460" height="1" fill="#ffffff"/><rect x="0" y="843" width="1460" height="3" fill="#f0f0f0"/><rect x="0" y="823" width="1" height="19" fill="#a0a0a0"/><rect x="1" y="823" width="1" height="19" fill="#696969"/><rect x="438" y="822" width="112" height="19" fill="#000"/><rect x="439" y="822" width="110" height="18" fill="#fff"/><text x="18" y="837" font-family="Liberation Sans, sans-serif" font-size="12.5" fill="#6a6a6a" textLength="83" lengthAdjust="spacingAndGlyphs">EURUSD-,Daily</text><rect x="114" y="825" width="1" height="14" fill="#8c8c8c"/><text x="124" y="837" font-family="Liberation Sans, sans-serif" font-size="12.5" fill="#6a6a6a" textLength="87" lengthAdjust="spacingAndGlyphs">AUDUSD-,Daily</text><rect x="223" y="825" width="1" height="14" fill="#8c8c8c"/><text x="234" y="837" font-family="Liberation Sans, sans-serif" font-size="12.5" fill="#6a6a6a" textLength="84" lengthAdjust="spacingAndGlyphs">USDCHF-,Daily</text><rect x="331" y="825" width="1" height="14" fill="#8c8c8c"/><text x="341" y="837" font-family="Liberation Sans, sans-serif" font-size="12.5" fill="#6a6a6a" textLength="86" lengthAdjust="spacingAndGlyphs">USDCAD-,Daily</text><text x="450" y="837" font-family="Liberation Sans, sans-serif" font-size="12.5" fill="#000" textLength="88" lengthAdjust="spacingAndGlyphs">USDCNH-,Daily</text><text x="561" y="837" font-family="Liberation Sans, sans-serif" font-size="12.5" fill="#6a6a6a" textLength="97" lengthAdjust="spacingAndGlyphs">EURCHF-,Weekly</text><rect x="670" y="825" width="1" height="14" fill="#8c8c8c"/><text x="680" y="837" font-family="Liberation Sans, sans-serif" font-size="12.5" fill="#6a6a6a" textLength="87" lengthAdjust="spacingAndGlyphs">XAUUSD-,Daily</text><rect x="779" y="825" width="1" height="14" fill="#8c8c8c"/><text x="788" y="837" font-family="Liberation Sans, sans-serif" font-size="12.5" fill="#6a6a6a" textLength="99" lengthAdjust="spacingAndGlyphs">GBPUSD-,Weekly</text><rect x="899" y="825" width="1" height="14" fill="#8c8c8c"/><text x="909" y="837" font-family="Liberation Sans, sans-serif" font-size="12.5" fill="#6a6a6a" textLength="57" lengthAdjust="spacingAndGlyphs">UKOil-,H1</text><rect x="978" y="825" width="1" height="14" fill="#8c8c8c"/><text x="988" y="837" font-family="Liberation Sans, sans-serif" font-size="12.5" fill="#6a6a6a" textLength="83" lengthAdjust="spacingAndGlyphs">USDX-,Weekly</text><rect x="1083" y="825" width="1" height="14" fill="#8c8c8c"/><text x="1092" y="837" font-family="Liberation Sans, sans-serif" font-size="12.5" fill="#6a6a6a" textLength="71" lengthAdjust="spacingAndGlyphs">EURCHF-,H1</text><rect x="1175" y="825" width="1" height="14" fill="#8c8c8c"/><text x="1186" y="837" font-family="Liberation Sans, sans-serif" font-size="12.5" fill="#6a6a6a" textLength="68" lengthAdjust="spacingAndGlyphs">USOil-,Daily</text><rect x="1266" y="825" width="1" height="14" fill="#8c8c8c"/><path d="M1439,828 L1439,835 L1435.5,831.5 Z" fill="#a0a0a0"/><path d="M1455,828 L1455,835 L1458.5,831.5 Z" fill="#a0a0a0"/></svg>
<div style="position:absolute;left:8px;top:41px;width:52px;height:24px;background:linear-gradient(#f75252,#e02828);box-sizing:border-box;border:1px solid #c01010;border-bottom:none;"></div>
<div style="position:absolute;left:175px;top:41px;width:52px;height:24px;background:linear-gradient(#f75252,#e02828);box-sizing:border-box;border:1px solid #c01010;border-bottom:none;"></div>
<div style="position:absolute;left:8px;top:65px;width:109px;height:40px;background:linear-gradient(#e23434,#b00202);box-sizing:border-box;border:1px solid #b80808;border-top:none;"></div>
<div style="position:absolute;left:119px;top:65px;width:108px;height:40px;background:linear-gradient(#e23434,#b00202);box-sizing:border-box;border:1px solid #b80808;border-top:none;"></div>
<div style="position:absolute;left:12px;top:64px;width:44px;height:1px;background:#7a0000;"></div>
<div style="position:absolute;left:12px;top:65px;width:44px;height:1px;background:#ee5a5a;"></div>
<div style="position:absolute;left:179px;top:64px;width:44px;height:1px;background:#7a0000;"></div>
<div style="position:absolute;left:179px;top:65px;width:44px;height:1px;background:#ee5a5a;"></div>
<div style="position:absolute;left:62px;top:41px;width:111px;height:23px;box-sizing:border-box;border:1px solid #b4b4bc;background:#fff;"></div>
<div style="position:absolute;left:63px;top:42px;width:20px;height:21px;background:linear-gradient(#f2f2f2,#d4d4d4);border-right:1px solid #c0c0c0;box-sizing:border-box;"></div>
<div style="position:absolute;left:152px;top:42px;width:20px;height:21px;background:linear-gradient(#f2f2f2,#d4d4d4);border-left:1px solid #c0c0c0;box-sizing:border-box;"></div>
<svg style="position:absolute;left:0;top:0" width="240" height="110">
<path d="M70,50 L76,50 L73,53 Z" fill="#4a64c8"/>
<path d="M159,53 L165,53 L162,50 Z" fill="#4a64c8"/>
<g font-family="Liberation Sans, sans-serif" fill="#fff">
<text x="20.5" y="57" font-size="12.5" textLength="25.5" lengthAdjust="spacingAndGlyphs">SELL</text>
<text x="188" y="57" font-size="12.5" textLength="23" lengthAdjust="spacingAndGlyphs">BUY</text>
<text x="28" y="96" font-size="12.5" font-weight="bold" textLength="24" lengthAdjust="spacingAndGlyphs">7.00</text>
<text x="138" y="96" font-size="12.5" font-weight="bold" textLength="24" lengthAdjust="spacingAndGlyphs">7.00</text>
<text x="56.5" y="96" font-size="33.5" textLength="33.5" lengthAdjust="spacingAndGlyphs">16</text>
<text x="165.5" y="96" font-size="33.5" textLength="35" lengthAdjust="spacingAndGlyphs">41</text>
<text x="95.5" y="80" font-size="12" font-weight="bold" textLength="6.5" lengthAdjust="spacingAndGlyphs">6</text>
<text x="206" y="80" font-size="12" font-weight="bold" textLength="7" lengthAdjust="spacingAndGlyphs">9</text>
</g>
<text x="148" y="57" font-family="Liberation Sans, sans-serif" font-size="12.5" fill="#000" text-anchor="end" textLength="23" lengthAdjust="spacingAndGlyphs">1.00</text>
</svg>

</body></html>
